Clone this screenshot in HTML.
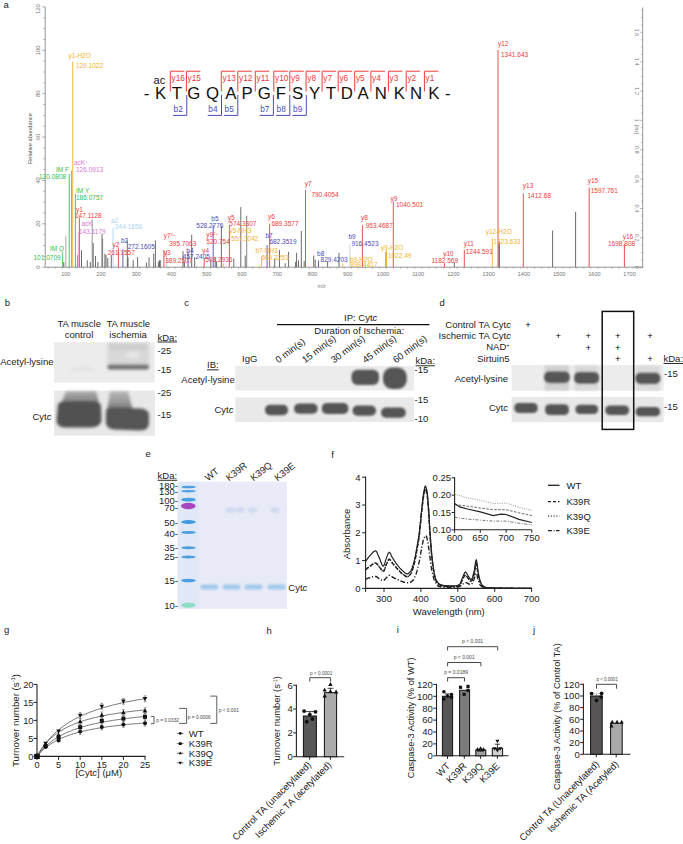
<!DOCTYPE html>
<html><head><meta charset="utf-8"><title>Figure</title>
<style>
html,body{margin:0;padding:0;background:#fff;width:683px;height:844px;overflow:hidden;}
svg{display:block;}
text{font-family:"Liberation Sans", sans-serif;}
</style></head><body>
<svg width="683" height="844" viewBox="0 0 683 844" font-family="Liberation Sans, sans-serif">
<defs>
<filter id="bl06" x="-20%" y="-20%" width="140%" height="140%"><feGaussianBlur stdDeviation="0.6"/></filter>
<filter id="bl07" x="-20%" y="-50%" width="140%" height="200%"><feGaussianBlur stdDeviation="0.75"/></filter>
<filter id="bl1" x="-20%" y="-20%" width="140%" height="140%"><feGaussianBlur stdDeviation="0.9"/></filter>
<filter id="bl2" x="-20%" y="-20%" width="140%" height="140%"><feGaussianBlur stdDeviation="1.6"/></filter>
</defs>
<rect width="683" height="844" fill="#fff"/>
<text x="3.6" y="8.0" font-size="9.5" text-anchor="start" fill="#222" >a</text>
<line x1="45.2" y1="7.0" x2="45.2" y2="267.2" stroke="#8a8a8a" stroke-width="0.9" />
<line x1="42.2" y1="267.2" x2="45.2" y2="267.2" stroke="#8a8a8a" stroke-width="0.7" />
<line x1="43.4" y1="256.4" x2="45.2" y2="256.4" stroke="#8a8a8a" stroke-width="0.7" />
<line x1="43.4" y1="245.5" x2="45.2" y2="245.5" stroke="#8a8a8a" stroke-width="0.7" />
<line x1="43.4" y1="234.7" x2="45.2" y2="234.7" stroke="#8a8a8a" stroke-width="0.7" />
<line x1="42.2" y1="223.8" x2="45.2" y2="223.8" stroke="#8a8a8a" stroke-width="0.7" />
<line x1="43.4" y1="213.0" x2="45.2" y2="213.0" stroke="#8a8a8a" stroke-width="0.7" />
<line x1="43.4" y1="202.1" x2="45.2" y2="202.1" stroke="#8a8a8a" stroke-width="0.7" />
<line x1="43.4" y1="191.3" x2="45.2" y2="191.3" stroke="#8a8a8a" stroke-width="0.7" />
<line x1="42.2" y1="180.4" x2="45.2" y2="180.4" stroke="#8a8a8a" stroke-width="0.7" />
<line x1="43.4" y1="169.6" x2="45.2" y2="169.6" stroke="#8a8a8a" stroke-width="0.7" />
<line x1="43.4" y1="158.8" x2="45.2" y2="158.8" stroke="#8a8a8a" stroke-width="0.7" />
<line x1="43.4" y1="147.9" x2="45.2" y2="147.9" stroke="#8a8a8a" stroke-width="0.7" />
<line x1="42.2" y1="137.1" x2="45.2" y2="137.1" stroke="#8a8a8a" stroke-width="0.7" />
<line x1="43.4" y1="126.2" x2="45.2" y2="126.2" stroke="#8a8a8a" stroke-width="0.7" />
<line x1="43.4" y1="115.4" x2="45.2" y2="115.4" stroke="#8a8a8a" stroke-width="0.7" />
<line x1="43.4" y1="104.5" x2="45.2" y2="104.5" stroke="#8a8a8a" stroke-width="0.7" />
<line x1="42.2" y1="93.7" x2="45.2" y2="93.7" stroke="#8a8a8a" stroke-width="0.7" />
<line x1="43.4" y1="82.8" x2="45.2" y2="82.8" stroke="#8a8a8a" stroke-width="0.7" />
<line x1="43.4" y1="72.0" x2="45.2" y2="72.0" stroke="#8a8a8a" stroke-width="0.7" />
<line x1="43.4" y1="61.1" x2="45.2" y2="61.1" stroke="#8a8a8a" stroke-width="0.7" />
<line x1="42.2" y1="50.3" x2="45.2" y2="50.3" stroke="#8a8a8a" stroke-width="0.7" />
<line x1="43.4" y1="39.5" x2="45.2" y2="39.5" stroke="#8a8a8a" stroke-width="0.7" />
<line x1="43.4" y1="28.6" x2="45.2" y2="28.6" stroke="#8a8a8a" stroke-width="0.7" />
<line x1="43.4" y1="17.8" x2="45.2" y2="17.8" stroke="#8a8a8a" stroke-width="0.7" />
<line x1="42.2" y1="6.9" x2="45.2" y2="6.9" stroke="#8a8a8a" stroke-width="0.7" />
<text x="0" y="0" font-size="5.9" text-anchor="middle" fill="#777" transform="translate(39.6,267.2) rotate(-90)" >0</text>
<text x="0" y="0" font-size="5.9" text-anchor="middle" fill="#777" transform="translate(39.6,223.8) rotate(-90)" >20</text>
<text x="0" y="0" font-size="5.9" text-anchor="middle" fill="#777" transform="translate(39.6,180.4) rotate(-90)" >40</text>
<text x="0" y="0" font-size="5.9" text-anchor="middle" fill="#777" transform="translate(39.6,137.1) rotate(-90)" >60</text>
<text x="0" y="0" font-size="5.9" text-anchor="middle" fill="#777" transform="translate(39.6,93.7) rotate(-90)" >80</text>
<text x="0" y="0" font-size="5.9" text-anchor="middle" fill="#777" transform="translate(39.6,50.3) rotate(-90)" >100</text>
<text x="0" y="0" font-size="5.9" text-anchor="middle" fill="#777" transform="translate(39.6,9.2) rotate(-90)" >120</text>
<text x="0" y="0" font-size="5.75" text-anchor="middle" fill="#555" transform="translate(32.0,138.5) rotate(-90)" >Relative abundance</text>
<line x1="45.2" y1="267.2" x2="643.5" y2="267.2" stroke="#8a8a8a" stroke-width="0.9" />
<line x1="48.2" y1="267.2" x2="48.2" y2="268.8" stroke="#8a8a8a" stroke-width="0.6" />
<line x1="55.2" y1="267.2" x2="55.2" y2="268.8" stroke="#8a8a8a" stroke-width="0.6" />
<line x1="62.3" y1="267.2" x2="62.3" y2="268.8" stroke="#8a8a8a" stroke-width="0.6" />
<line x1="69.3" y1="267.2" x2="69.3" y2="268.8" stroke="#8a8a8a" stroke-width="0.6" />
<line x1="76.4" y1="267.2" x2="76.4" y2="268.8" stroke="#8a8a8a" stroke-width="0.6" />
<line x1="83.4" y1="267.2" x2="83.4" y2="268.8" stroke="#8a8a8a" stroke-width="0.6" />
<line x1="90.5" y1="267.2" x2="90.5" y2="268.8" stroke="#8a8a8a" stroke-width="0.6" />
<line x1="97.5" y1="267.2" x2="97.5" y2="268.8" stroke="#8a8a8a" stroke-width="0.6" />
<line x1="104.6" y1="267.2" x2="104.6" y2="268.8" stroke="#8a8a8a" stroke-width="0.6" />
<line x1="111.6" y1="267.2" x2="111.6" y2="268.8" stroke="#8a8a8a" stroke-width="0.6" />
<line x1="118.7" y1="267.2" x2="118.7" y2="268.8" stroke="#8a8a8a" stroke-width="0.6" />
<line x1="125.7" y1="267.2" x2="125.7" y2="268.8" stroke="#8a8a8a" stroke-width="0.6" />
<line x1="132.8" y1="267.2" x2="132.8" y2="268.8" stroke="#8a8a8a" stroke-width="0.6" />
<line x1="139.8" y1="267.2" x2="139.8" y2="268.8" stroke="#8a8a8a" stroke-width="0.6" />
<line x1="146.9" y1="267.2" x2="146.9" y2="268.8" stroke="#8a8a8a" stroke-width="0.6" />
<line x1="153.9" y1="267.2" x2="153.9" y2="268.8" stroke="#8a8a8a" stroke-width="0.6" />
<line x1="160.9" y1="267.2" x2="160.9" y2="268.8" stroke="#8a8a8a" stroke-width="0.6" />
<line x1="168.0" y1="267.2" x2="168.0" y2="268.8" stroke="#8a8a8a" stroke-width="0.6" />
<line x1="175.0" y1="267.2" x2="175.0" y2="268.8" stroke="#8a8a8a" stroke-width="0.6" />
<line x1="182.1" y1="267.2" x2="182.1" y2="268.8" stroke="#8a8a8a" stroke-width="0.6" />
<line x1="189.1" y1="267.2" x2="189.1" y2="268.8" stroke="#8a8a8a" stroke-width="0.6" />
<line x1="196.2" y1="267.2" x2="196.2" y2="268.8" stroke="#8a8a8a" stroke-width="0.6" />
<line x1="203.2" y1="267.2" x2="203.2" y2="268.8" stroke="#8a8a8a" stroke-width="0.6" />
<line x1="210.3" y1="267.2" x2="210.3" y2="268.8" stroke="#8a8a8a" stroke-width="0.6" />
<line x1="217.3" y1="267.2" x2="217.3" y2="268.8" stroke="#8a8a8a" stroke-width="0.6" />
<line x1="224.4" y1="267.2" x2="224.4" y2="268.8" stroke="#8a8a8a" stroke-width="0.6" />
<line x1="231.4" y1="267.2" x2="231.4" y2="268.8" stroke="#8a8a8a" stroke-width="0.6" />
<line x1="238.5" y1="267.2" x2="238.5" y2="268.8" stroke="#8a8a8a" stroke-width="0.6" />
<line x1="245.5" y1="267.2" x2="245.5" y2="268.8" stroke="#8a8a8a" stroke-width="0.6" />
<line x1="252.6" y1="267.2" x2="252.6" y2="268.8" stroke="#8a8a8a" stroke-width="0.6" />
<line x1="259.6" y1="267.2" x2="259.6" y2="268.8" stroke="#8a8a8a" stroke-width="0.6" />
<line x1="266.7" y1="267.2" x2="266.7" y2="268.8" stroke="#8a8a8a" stroke-width="0.6" />
<line x1="273.7" y1="267.2" x2="273.7" y2="268.8" stroke="#8a8a8a" stroke-width="0.6" />
<line x1="280.8" y1="267.2" x2="280.8" y2="268.8" stroke="#8a8a8a" stroke-width="0.6" />
<line x1="287.8" y1="267.2" x2="287.8" y2="268.8" stroke="#8a8a8a" stroke-width="0.6" />
<line x1="294.9" y1="267.2" x2="294.9" y2="268.8" stroke="#8a8a8a" stroke-width="0.6" />
<line x1="301.9" y1="267.2" x2="301.9" y2="268.8" stroke="#8a8a8a" stroke-width="0.6" />
<line x1="309.0" y1="267.2" x2="309.0" y2="268.8" stroke="#8a8a8a" stroke-width="0.6" />
<line x1="316.0" y1="267.2" x2="316.0" y2="268.8" stroke="#8a8a8a" stroke-width="0.6" />
<line x1="323.1" y1="267.2" x2="323.1" y2="268.8" stroke="#8a8a8a" stroke-width="0.6" />
<line x1="330.1" y1="267.2" x2="330.1" y2="268.8" stroke="#8a8a8a" stroke-width="0.6" />
<line x1="337.1" y1="267.2" x2="337.1" y2="268.8" stroke="#8a8a8a" stroke-width="0.6" />
<line x1="344.2" y1="267.2" x2="344.2" y2="268.8" stroke="#8a8a8a" stroke-width="0.6" />
<line x1="351.2" y1="267.2" x2="351.2" y2="268.8" stroke="#8a8a8a" stroke-width="0.6" />
<line x1="358.3" y1="267.2" x2="358.3" y2="268.8" stroke="#8a8a8a" stroke-width="0.6" />
<line x1="365.3" y1="267.2" x2="365.3" y2="268.8" stroke="#8a8a8a" stroke-width="0.6" />
<line x1="372.4" y1="267.2" x2="372.4" y2="268.8" stroke="#8a8a8a" stroke-width="0.6" />
<line x1="379.4" y1="267.2" x2="379.4" y2="268.8" stroke="#8a8a8a" stroke-width="0.6" />
<line x1="386.5" y1="267.2" x2="386.5" y2="268.8" stroke="#8a8a8a" stroke-width="0.6" />
<line x1="393.5" y1="267.2" x2="393.5" y2="268.8" stroke="#8a8a8a" stroke-width="0.6" />
<line x1="400.6" y1="267.2" x2="400.6" y2="268.8" stroke="#8a8a8a" stroke-width="0.6" />
<line x1="407.6" y1="267.2" x2="407.6" y2="268.8" stroke="#8a8a8a" stroke-width="0.6" />
<line x1="414.7" y1="267.2" x2="414.7" y2="268.8" stroke="#8a8a8a" stroke-width="0.6" />
<line x1="421.7" y1="267.2" x2="421.7" y2="268.8" stroke="#8a8a8a" stroke-width="0.6" />
<line x1="428.8" y1="267.2" x2="428.8" y2="268.8" stroke="#8a8a8a" stroke-width="0.6" />
<line x1="435.8" y1="267.2" x2="435.8" y2="268.8" stroke="#8a8a8a" stroke-width="0.6" />
<line x1="442.9" y1="267.2" x2="442.9" y2="268.8" stroke="#8a8a8a" stroke-width="0.6" />
<line x1="449.9" y1="267.2" x2="449.9" y2="268.8" stroke="#8a8a8a" stroke-width="0.6" />
<line x1="457.0" y1="267.2" x2="457.0" y2="268.8" stroke="#8a8a8a" stroke-width="0.6" />
<line x1="464.0" y1="267.2" x2="464.0" y2="268.8" stroke="#8a8a8a" stroke-width="0.6" />
<line x1="471.1" y1="267.2" x2="471.1" y2="268.8" stroke="#8a8a8a" stroke-width="0.6" />
<line x1="478.1" y1="267.2" x2="478.1" y2="268.8" stroke="#8a8a8a" stroke-width="0.6" />
<line x1="485.2" y1="267.2" x2="485.2" y2="268.8" stroke="#8a8a8a" stroke-width="0.6" />
<line x1="492.2" y1="267.2" x2="492.2" y2="268.8" stroke="#8a8a8a" stroke-width="0.6" />
<line x1="499.3" y1="267.2" x2="499.3" y2="268.8" stroke="#8a8a8a" stroke-width="0.6" />
<line x1="506.3" y1="267.2" x2="506.3" y2="268.8" stroke="#8a8a8a" stroke-width="0.6" />
<line x1="513.3" y1="267.2" x2="513.3" y2="268.8" stroke="#8a8a8a" stroke-width="0.6" />
<line x1="520.4" y1="267.2" x2="520.4" y2="268.8" stroke="#8a8a8a" stroke-width="0.6" />
<line x1="527.4" y1="267.2" x2="527.4" y2="268.8" stroke="#8a8a8a" stroke-width="0.6" />
<line x1="534.5" y1="267.2" x2="534.5" y2="268.8" stroke="#8a8a8a" stroke-width="0.6" />
<line x1="541.5" y1="267.2" x2="541.5" y2="268.8" stroke="#8a8a8a" stroke-width="0.6" />
<line x1="548.6" y1="267.2" x2="548.6" y2="268.8" stroke="#8a8a8a" stroke-width="0.6" />
<line x1="555.6" y1="267.2" x2="555.6" y2="268.8" stroke="#8a8a8a" stroke-width="0.6" />
<line x1="562.7" y1="267.2" x2="562.7" y2="268.8" stroke="#8a8a8a" stroke-width="0.6" />
<line x1="569.7" y1="267.2" x2="569.7" y2="268.8" stroke="#8a8a8a" stroke-width="0.6" />
<line x1="576.8" y1="267.2" x2="576.8" y2="268.8" stroke="#8a8a8a" stroke-width="0.6" />
<line x1="583.8" y1="267.2" x2="583.8" y2="268.8" stroke="#8a8a8a" stroke-width="0.6" />
<line x1="590.9" y1="267.2" x2="590.9" y2="268.8" stroke="#8a8a8a" stroke-width="0.6" />
<line x1="597.9" y1="267.2" x2="597.9" y2="268.8" stroke="#8a8a8a" stroke-width="0.6" />
<line x1="605.0" y1="267.2" x2="605.0" y2="268.8" stroke="#8a8a8a" stroke-width="0.6" />
<line x1="612.0" y1="267.2" x2="612.0" y2="268.8" stroke="#8a8a8a" stroke-width="0.6" />
<line x1="619.1" y1="267.2" x2="619.1" y2="268.8" stroke="#8a8a8a" stroke-width="0.6" />
<line x1="626.1" y1="267.2" x2="626.1" y2="268.8" stroke="#8a8a8a" stroke-width="0.6" />
<line x1="633.2" y1="267.2" x2="633.2" y2="268.8" stroke="#8a8a8a" stroke-width="0.6" />
<line x1="640.2" y1="267.2" x2="640.2" y2="268.8" stroke="#8a8a8a" stroke-width="0.6" />
<text x="65.8" y="276.0" font-size="5.6" text-anchor="middle" fill="#777" >100</text>
<text x="101.0" y="276.0" font-size="5.6" text-anchor="middle" fill="#777" >200</text>
<text x="136.3" y="276.0" font-size="5.6" text-anchor="middle" fill="#777" >300</text>
<text x="171.5" y="276.0" font-size="5.6" text-anchor="middle" fill="#777" >400</text>
<text x="206.8" y="276.0" font-size="5.6" text-anchor="middle" fill="#777" >500</text>
<text x="242.0" y="276.0" font-size="5.6" text-anchor="middle" fill="#777" >600</text>
<text x="277.2" y="276.0" font-size="5.6" text-anchor="middle" fill="#777" >700</text>
<text x="312.5" y="276.0" font-size="5.6" text-anchor="middle" fill="#777" >800</text>
<text x="347.7" y="276.0" font-size="5.6" text-anchor="middle" fill="#777" >900</text>
<text x="383.0" y="276.0" font-size="5.6" text-anchor="middle" fill="#777" >1000</text>
<text x="418.2" y="276.0" font-size="5.6" text-anchor="middle" fill="#777" >1100</text>
<text x="453.4" y="276.0" font-size="5.6" text-anchor="middle" fill="#777" >1200</text>
<text x="488.7" y="276.0" font-size="5.6" text-anchor="middle" fill="#777" >1300</text>
<text x="523.9" y="276.0" font-size="5.6" text-anchor="middle" fill="#777" >1400</text>
<text x="559.2" y="276.0" font-size="5.6" text-anchor="middle" fill="#777" >1500</text>
<text x="594.4" y="276.0" font-size="5.6" text-anchor="middle" fill="#777" >1600</text>
<text x="629.6" y="276.0" font-size="5.6" text-anchor="middle" fill="#777" >1700</text>
<text x="321.5" y="287.5" font-size="5" text-anchor="middle" fill="#777" >m/z</text>
<line x1="642.7" y1="7.5" x2="642.7" y2="267.2" stroke="#8a8a8a" stroke-width="0.9" />
<line x1="640.1" y1="267.2" x2="642.7" y2="267.2" stroke="#8a8a8a" stroke-width="0.6" />
<line x1="641.1" y1="259.9" x2="642.7" y2="259.9" stroke="#8a8a8a" stroke-width="0.6" />
<line x1="641.1" y1="252.5" x2="642.7" y2="252.5" stroke="#8a8a8a" stroke-width="0.6" />
<line x1="641.1" y1="245.2" x2="642.7" y2="245.2" stroke="#8a8a8a" stroke-width="0.6" />
<line x1="640.1" y1="237.8" x2="642.7" y2="237.8" stroke="#8a8a8a" stroke-width="0.6" />
<line x1="641.1" y1="230.5" x2="642.7" y2="230.5" stroke="#8a8a8a" stroke-width="0.6" />
<line x1="641.1" y1="223.2" x2="642.7" y2="223.2" stroke="#8a8a8a" stroke-width="0.6" />
<line x1="641.1" y1="215.8" x2="642.7" y2="215.8" stroke="#8a8a8a" stroke-width="0.6" />
<line x1="640.1" y1="208.5" x2="642.7" y2="208.5" stroke="#8a8a8a" stroke-width="0.6" />
<line x1="641.1" y1="201.1" x2="642.7" y2="201.1" stroke="#8a8a8a" stroke-width="0.6" />
<line x1="641.1" y1="193.8" x2="642.7" y2="193.8" stroke="#8a8a8a" stroke-width="0.6" />
<line x1="641.1" y1="186.5" x2="642.7" y2="186.5" stroke="#8a8a8a" stroke-width="0.6" />
<line x1="640.1" y1="179.1" x2="642.7" y2="179.1" stroke="#8a8a8a" stroke-width="0.6" />
<line x1="641.1" y1="171.8" x2="642.7" y2="171.8" stroke="#8a8a8a" stroke-width="0.6" />
<line x1="641.1" y1="164.4" x2="642.7" y2="164.4" stroke="#8a8a8a" stroke-width="0.6" />
<line x1="641.1" y1="157.1" x2="642.7" y2="157.1" stroke="#8a8a8a" stroke-width="0.6" />
<line x1="640.1" y1="149.8" x2="642.7" y2="149.8" stroke="#8a8a8a" stroke-width="0.6" />
<line x1="641.1" y1="142.4" x2="642.7" y2="142.4" stroke="#8a8a8a" stroke-width="0.6" />
<line x1="641.1" y1="135.1" x2="642.7" y2="135.1" stroke="#8a8a8a" stroke-width="0.6" />
<line x1="641.1" y1="127.7" x2="642.7" y2="127.7" stroke="#8a8a8a" stroke-width="0.6" />
<line x1="640.1" y1="120.4" x2="642.7" y2="120.4" stroke="#8a8a8a" stroke-width="0.6" />
<line x1="641.1" y1="113.1" x2="642.7" y2="113.1" stroke="#8a8a8a" stroke-width="0.6" />
<line x1="641.1" y1="105.7" x2="642.7" y2="105.7" stroke="#8a8a8a" stroke-width="0.6" />
<line x1="641.1" y1="98.4" x2="642.7" y2="98.4" stroke="#8a8a8a" stroke-width="0.6" />
<line x1="640.1" y1="91.0" x2="642.7" y2="91.0" stroke="#8a8a8a" stroke-width="0.6" />
<line x1="641.1" y1="83.7" x2="642.7" y2="83.7" stroke="#8a8a8a" stroke-width="0.6" />
<line x1="641.1" y1="76.4" x2="642.7" y2="76.4" stroke="#8a8a8a" stroke-width="0.6" />
<line x1="641.1" y1="69.0" x2="642.7" y2="69.0" stroke="#8a8a8a" stroke-width="0.6" />
<line x1="640.1" y1="61.7" x2="642.7" y2="61.7" stroke="#8a8a8a" stroke-width="0.6" />
<line x1="641.1" y1="54.3" x2="642.7" y2="54.3" stroke="#8a8a8a" stroke-width="0.6" />
<line x1="641.1" y1="47.0" x2="642.7" y2="47.0" stroke="#8a8a8a" stroke-width="0.6" />
<line x1="641.1" y1="39.7" x2="642.7" y2="39.7" stroke="#8a8a8a" stroke-width="0.6" />
<line x1="640.1" y1="32.3" x2="642.7" y2="32.3" stroke="#8a8a8a" stroke-width="0.6" />
<line x1="641.1" y1="25.0" x2="642.7" y2="25.0" stroke="#8a8a8a" stroke-width="0.6" />
<line x1="641.1" y1="17.6" x2="642.7" y2="17.6" stroke="#8a8a8a" stroke-width="0.6" />
<line x1="641.1" y1="10.3" x2="642.7" y2="10.3" stroke="#8a8a8a" stroke-width="0.6" />
<text x="0" y="0" font-size="5.6" text-anchor="middle" fill="#777" transform="translate(635.2,267.2) rotate(90)" >0</text>
<text x="0" y="0" font-size="5.6" text-anchor="middle" fill="#777" transform="translate(635.2,237.8) rotate(90)" >0.2</text>
<text x="0" y="0" font-size="5.6" text-anchor="middle" fill="#777" transform="translate(635.2,208.5) rotate(90)" >0.4</text>
<text x="0" y="0" font-size="5.6" text-anchor="middle" fill="#777" transform="translate(635.2,179.1) rotate(90)" >0.6</text>
<text x="0" y="0" font-size="5.6" text-anchor="middle" fill="#777" transform="translate(635.2,149.8) rotate(90)" >0.8</text>
<text x="0" y="0" font-size="5.6" text-anchor="middle" fill="#777" transform="translate(635.2,120.4) rotate(90)" >1</text>
<text x="0" y="0" font-size="5.6" text-anchor="middle" fill="#777" transform="translate(635.2,91.0) rotate(90)" >1.2</text>
<text x="0" y="0" font-size="5.6" text-anchor="middle" fill="#777" transform="translate(635.2,61.7) rotate(90)" >1.4</text>
<text x="0" y="0" font-size="5.6" text-anchor="middle" fill="#777" transform="translate(635.2,32.3) rotate(90)" >1.6</text>
<text x="0" y="0" font-size="4.5" text-anchor="middle" fill="#777" transform="translate(635.2,129.5) rotate(90)" >[ms]</text>
<line x1="62.7" y1="253.3" x2="62.7" y2="267.2" stroke="#2fbf4a" stroke-width="0.9" />
<line x1="63.8" y1="262.0" x2="63.8" y2="267.2" stroke="#5a5a5a" stroke-width="0.9" />
<line x1="65.9" y1="236.3" x2="65.9" y2="267.2" stroke="#999" stroke-width="0.9" />
<line x1="69.2" y1="174.0" x2="69.2" y2="267.2" stroke="#2fbf4a" stroke-width="0.9" />
<line x1="71.5" y1="170.5" x2="71.5" y2="267.2" stroke="#d77ad7" stroke-width="0.9" />
<line x1="72.7" y1="61.5" x2="72.7" y2="267.2" stroke="#f5b22a" stroke-width="0.9" />
<line x1="75.4" y1="194.0" x2="75.4" y2="267.2" stroke="#2fbf4a" stroke-width="0.9" />
<line x1="77.6" y1="255.0" x2="77.6" y2="267.2" stroke="#b050d0" stroke-width="0.9" />
<line x1="78.3" y1="231.6" x2="78.3" y2="267.2" stroke="#f0b0e0" stroke-width="0.9" />
<line x1="79.4" y1="217.6" x2="79.4" y2="267.2" stroke="#ee3b3b" stroke-width="0.9" />
<line x1="81.5" y1="250.3" x2="81.5" y2="267.2" stroke="#5a5a5a" stroke-width="0.9" />
<line x1="87.3" y1="260.3" x2="87.3" y2="267.2" stroke="#5a5a5a" stroke-width="0.9" />
<line x1="90.3" y1="262.0" x2="90.3" y2="267.2" stroke="#5a5a5a" stroke-width="0.9" />
<line x1="92.2" y1="219.3" x2="92.2" y2="267.2" stroke="#888" stroke-width="0.9" />
<line x1="93.2" y1="243.0" x2="93.2" y2="267.2" stroke="#5a5a5a" stroke-width="0.9" />
<line x1="95.5" y1="256.0" x2="95.5" y2="267.2" stroke="#5a5a5a" stroke-width="0.9" />
<line x1="97.9" y1="262.0" x2="97.9" y2="267.2" stroke="#5a5a5a" stroke-width="0.9" />
<line x1="102.0" y1="234.0" x2="102.0" y2="267.2" stroke="#5a5a5a" stroke-width="0.9" />
<line x1="102.6" y1="238.6" x2="102.6" y2="267.2" stroke="#777" stroke-width="0.9" />
<line x1="104.9" y1="253.7" x2="104.9" y2="267.2" stroke="#5a5a5a" stroke-width="0.9" />
<line x1="106.0" y1="255.0" x2="106.0" y2="267.2" stroke="#5a5a5a" stroke-width="0.9" />
<line x1="107.8" y1="258.0" x2="107.8" y2="267.2" stroke="#5a5a5a" stroke-width="0.9" />
<line x1="111.3" y1="255.0" x2="111.3" y2="267.2" stroke="#5a5a5a" stroke-width="0.9" />
<line x1="113.1" y1="228.0" x2="113.1" y2="267.2" stroke="#a9d6f2" stroke-width="0.9" />
<line x1="118.4" y1="247.4" x2="118.4" y2="267.2" stroke="#ee3b3b" stroke-width="0.9" />
<line x1="122.9" y1="249.3" x2="122.9" y2="267.2" stroke="#4a4ab8" stroke-width="0.9" />
<line x1="127.3" y1="240.5" x2="127.3" y2="267.2" stroke="#5a5a5a" stroke-width="0.9" />
<line x1="128.0" y1="257.3" x2="128.0" y2="267.2" stroke="#5a5a5a" stroke-width="0.9" />
<line x1="133.2" y1="260.3" x2="133.2" y2="267.2" stroke="#5a5a5a" stroke-width="0.9" />
<line x1="137.6" y1="257.0" x2="137.6" y2="267.2" stroke="#5a5a5a" stroke-width="0.9" />
<line x1="146.4" y1="262.5" x2="146.4" y2="267.2" stroke="#5a5a5a" stroke-width="0.9" />
<line x1="149.0" y1="257.3" x2="149.0" y2="267.2" stroke="#5a5a5a" stroke-width="0.9" />
<line x1="153.7" y1="253.7" x2="153.7" y2="267.2" stroke="#5a5a5a" stroke-width="0.9" />
<line x1="155.4" y1="240.5" x2="155.4" y2="267.2" stroke="#5a5a5a" stroke-width="0.9" />
<line x1="158.4" y1="261.7" x2="158.4" y2="267.2" stroke="#5a5a5a" stroke-width="0.9" />
<line x1="159.5" y1="260.3" x2="159.5" y2="267.2" stroke="#5a5a5a" stroke-width="0.9" />
<line x1="160.3" y1="260.0" x2="160.3" y2="267.2" stroke="#5a5a5a" stroke-width="0.9" />
<line x1="163.9" y1="250.0" x2="163.9" y2="267.2" stroke="#ee3b3b" stroke-width="0.9" />
<line x1="166.6" y1="250.0" x2="166.6" y2="267.2" stroke="#bbb" stroke-width="0.9" />
<line x1="183.0" y1="251.2" x2="183.0" y2="267.2" stroke="#5a5a5a" stroke-width="0.9" />
<line x1="184.4" y1="261.7" x2="184.4" y2="267.2" stroke="#5a5a5a" stroke-width="0.9" />
<line x1="188.1" y1="251.5" x2="188.1" y2="267.2" stroke="#4a4ab8" stroke-width="0.9" />
<line x1="191.7" y1="234.7" x2="191.7" y2="267.2" stroke="#5a5a5a" stroke-width="0.9" />
<line x1="194.7" y1="257.3" x2="194.7" y2="267.2" stroke="#5a5a5a" stroke-width="0.9" />
<line x1="204.2" y1="258.0" x2="204.2" y2="267.2" stroke="#ee3b3b" stroke-width="0.9" />
<line x1="210.8" y1="258.8" x2="210.8" y2="267.2" stroke="#5a5a5a" stroke-width="0.9" />
<line x1="213.2" y1="225.2" x2="213.2" y2="267.2" stroke="#4a4ab8" stroke-width="0.9" />
<line x1="215.2" y1="257.0" x2="215.2" y2="267.2" stroke="#5a5a5a" stroke-width="0.9" />
<line x1="216.6" y1="261.4" x2="216.6" y2="267.2" stroke="#5a5a5a" stroke-width="0.9" />
<line x1="221.4" y1="226.1" x2="221.4" y2="267.2" stroke="#5a5a5a" stroke-width="0.9" />
<line x1="223.3" y1="263.3" x2="223.3" y2="267.2" stroke="#f5b22a" stroke-width="0.9" />
<line x1="229.4" y1="225.2" x2="229.4" y2="267.2" stroke="#ee3b3b" stroke-width="0.9" />
<line x1="233.8" y1="258.5" x2="233.8" y2="267.2" stroke="#5a5a5a" stroke-width="0.9" />
<line x1="240.8" y1="207.1" x2="240.8" y2="267.2" stroke="#5a5a5a" stroke-width="0.9" />
<line x1="245.2" y1="255.6" x2="245.2" y2="267.2" stroke="#5a5a5a" stroke-width="0.9" />
<line x1="246.7" y1="215.7" x2="246.7" y2="267.2" stroke="#777" stroke-width="0.9" />
<line x1="261.4" y1="256.6" x2="261.4" y2="267.2" stroke="#f5b22a" stroke-width="0.9" />
<line x1="267.1" y1="245.2" x2="267.1" y2="267.2" stroke="#4a4ab8" stroke-width="0.9" />
<line x1="269.6" y1="223.7" x2="269.6" y2="267.2" stroke="#ee3b3b" stroke-width="0.9" />
<line x1="274.7" y1="258.5" x2="274.7" y2="267.2" stroke="#5a5a5a" stroke-width="0.9" />
<line x1="279.5" y1="250.0" x2="279.5" y2="267.2" stroke="#5a5a5a" stroke-width="0.9" />
<line x1="285.2" y1="263.3" x2="285.2" y2="267.2" stroke="#5a5a5a" stroke-width="0.9" />
<line x1="288.6" y1="251.8" x2="288.6" y2="267.2" stroke="#5a5a5a" stroke-width="0.9" />
<line x1="295.6" y1="262.0" x2="295.6" y2="267.2" stroke="#5a5a5a" stroke-width="0.9" />
<line x1="296.6" y1="252.8" x2="296.6" y2="267.2" stroke="#5a5a5a" stroke-width="0.9" />
<line x1="298.5" y1="260.4" x2="298.5" y2="267.2" stroke="#5a5a5a" stroke-width="0.9" />
<line x1="301.3" y1="230.9" x2="301.3" y2="267.2" stroke="#5a5a5a" stroke-width="0.9" />
<line x1="304.2" y1="261.0" x2="304.2" y2="267.2" stroke="#5a5a5a" stroke-width="0.9" />
<line x1="305.5" y1="190.0" x2="305.5" y2="267.2" stroke="#ee3b3b" stroke-width="0.9" />
<line x1="313.7" y1="255.6" x2="313.7" y2="267.2" stroke="#5a5a5a" stroke-width="0.9" />
<line x1="315.2" y1="259.5" x2="315.2" y2="267.2" stroke="#5a5a5a" stroke-width="0.9" />
<line x1="318.5" y1="260.4" x2="318.5" y2="267.2" stroke="#4a4ab8" stroke-width="0.9" />
<line x1="327.6" y1="261.4" x2="327.6" y2="267.2" stroke="#5a5a5a" stroke-width="0.9" />
<line x1="339.0" y1="252.8" x2="339.0" y2="267.2" stroke="#5a5a5a" stroke-width="0.9" />
<line x1="342.8" y1="263.3" x2="342.8" y2="267.2" stroke="#f5b22a" stroke-width="0.9" />
<line x1="349.9" y1="244.2" x2="349.9" y2="267.2" stroke="#ccc" stroke-width="0.9" />
<line x1="362.4" y1="225.2" x2="362.4" y2="267.2" stroke="#ee3b3b" stroke-width="0.9" />
<line x1="386.0" y1="252.0" x2="386.0" y2="267.2" stroke="#5a5a5a" stroke-width="0.9" />
<line x1="386.6" y1="250.0" x2="386.6" y2="267.2" stroke="#f5b22a" stroke-width="0.9" />
<line x1="393.3" y1="201.4" x2="393.3" y2="267.2" stroke="#ee3b3b" stroke-width="0.9" />
<line x1="444.4" y1="263.2" x2="444.4" y2="267.2" stroke="#ee3b3b" stroke-width="0.9" />
<line x1="454.3" y1="262.3" x2="454.3" y2="267.2" stroke="#5a5a5a" stroke-width="0.9" />
<line x1="464.3" y1="250.0" x2="464.3" y2="267.2" stroke="#ee3b3b" stroke-width="0.9" />
<line x1="492.3" y1="238.5" x2="492.3" y2="267.2" stroke="#f5b22a" stroke-width="0.9" />
<line x1="498.0" y1="50.0" x2="498.0" y2="267.2" stroke="#ee3b3b" stroke-width="0.9" />
<line x1="499.2" y1="242.3" x2="499.2" y2="267.2" stroke="#222" stroke-width="0.9" />
<line x1="523.3" y1="193.4" x2="523.3" y2="267.2" stroke="#ee3b3b" stroke-width="0.9" />
<line x1="552.6" y1="230.6" x2="552.6" y2="267.2" stroke="#5a5a5a" stroke-width="0.9" />
<line x1="575.6" y1="211.8" x2="575.6" y2="267.2" stroke="#5a5a5a" stroke-width="0.9" />
<line x1="589.2" y1="187.7" x2="589.2" y2="267.2" stroke="#ee3b3b" stroke-width="0.9" />
<line x1="624.4" y1="244.2" x2="624.4" y2="267.2" stroke="#ee3b3b" stroke-width="0.9" />
<text x="68.4" y="58.0" font-size="6.5" text-anchor="start" fill="#f5b22a" >y1-H2O</text>
<text x="75.9" y="67.5" font-size="6.5" text-anchor="start" fill="#f5b22a" >129.1022</text>
<text x="74.0" y="165.0" font-size="6.5" text-anchor="start" fill="#d77ad7" >acK<tspan font-size="4" dy="-2">+</tspan></text>
<text x="76.0" y="171.5" font-size="6.5" text-anchor="start" fill="#d77ad7" >126.0913</text>
<text x="56.0" y="171.5" font-size="6.5" text-anchor="start" fill="#2fbf4a" >IM F</text>
<text x="39.0" y="178.5" font-size="6.5" text-anchor="start" fill="#2fbf4a" >120.0808</text>
<text x="76.0" y="192.5" font-size="6.5" text-anchor="start" fill="#2fbf4a" >IM Y</text>
<text x="76.0" y="200.0" font-size="6.5" text-anchor="start" fill="#2fbf4a" >186.0757</text>
<text x="76.0" y="211.5" font-size="6.5" text-anchor="start" fill="#ee3b3b" >y1</text>
<text x="75.0" y="217.5" font-size="6.5" text-anchor="start" fill="#ee3b3b" >147.1128</text>
<text x="81.5" y="226.0" font-size="6.5" text-anchor="start" fill="#d77ad7" >acK</text>
<text x="79.0" y="233.5" font-size="6.5" text-anchor="start" fill="#d77ad7" >143.1179</text>
<text x="111.0" y="222.5" font-size="6.5" text-anchor="start" fill="#a9d6f2" >a2</text>
<text x="115.0" y="228.5" font-size="6.5" text-anchor="start" fill="#a9d6f2" >244.1656</text>
<text x="121.0" y="242.5" font-size="6.5" text-anchor="start" fill="#4a4ab8" >b2</text>
<text x="127.7" y="249.0" font-size="6.5" text-anchor="start" fill="#4a4ab8" >272.1605</text>
<text x="112.6" y="246.5" font-size="6.5" text-anchor="start" fill="#ee3b3b" >y2</text>
<text x="107.7" y="255.0" font-size="6.5" text-anchor="start" fill="#ee3b3b" >261.1557</text>
<text x="50.0" y="251.0" font-size="6.5" text-anchor="start" fill="#2fbf4a" >IM Q</text>
<text x="33.5" y="259.5" font-size="6.5" text-anchor="start" fill="#2fbf4a" >101.0709</text>
<text x="163.7" y="237.5" font-size="6.5" text-anchor="start" fill="#ee3b3b" >y7<tspan font-size="4" dy="-2">2+</tspan></text>
<text x="169.2" y="245.5" font-size="6.5" text-anchor="start" fill="#ee3b3b" >395.7063</text>
<text x="163.7" y="255.0" font-size="6.5" text-anchor="start" fill="#ee3b3b" >y3</text>
<text x="165.2" y="262.5" font-size="6.5" text-anchor="start" fill="#ee3b3b" >389.2507</text>
<text x="186.3" y="252.5" font-size="6.5" text-anchor="start" fill="#4a4ab8" >b4</text>
<text x="182.8" y="258.5" font-size="6.5" text-anchor="start" fill="#4a4ab8" >457.2405</text>
<text x="202.3" y="252.5" font-size="6.5" text-anchor="start" fill="#ee3b3b" >y4</text>
<text x="205.3" y="261.5" font-size="6.5" text-anchor="start" fill="#ee3b3b" >503.2936</text>
<text x="206.3" y="236.5" font-size="6.5" text-anchor="start" fill="#ee3b3b" >y9<tspan font-size="4" dy="-2">2+</tspan></text>
<text x="206.3" y="244.0" font-size="6.5" text-anchor="start" fill="#ee3b3b" >520.754</text>
<text x="211.3" y="221.0" font-size="6.5" text-anchor="start" fill="#4a4ab8" >b5</text>
<text x="196.3" y="227.5" font-size="6.5" text-anchor="start" fill="#4a4ab8" >528.2776</text>
<text x="227.8" y="220.0" font-size="6.5" text-anchor="start" fill="#ee3b3b" >y5</text>
<text x="229.3" y="226.0" font-size="6.5" text-anchor="start" fill="#ee3b3b" >574.3307</text>
<text x="229.3" y="232.5" font-size="6.5" text-anchor="start" fill="#f5b22a" >y5-NH3</text>
<text x="231.3" y="240.5" font-size="6.5" text-anchor="start" fill="#f5b22a" >557.3042</text>
<text x="267.9" y="219.0" font-size="6.5" text-anchor="start" fill="#ee3b3b" >y6</text>
<text x="271.4" y="226.0" font-size="6.5" text-anchor="start" fill="#ee3b3b" >689.3577</text>
<text x="265.4" y="237.5" font-size="6.5" text-anchor="start" fill="#4a4ab8" >b7</text>
<text x="269.4" y="244.0" font-size="6.5" text-anchor="start" fill="#4a4ab8" >682.3519</text>
<text x="255.4" y="252.5" font-size="6.5" text-anchor="start" fill="#f5b22a" >b7-NH3</text>
<text x="261.4" y="260.0" font-size="6.5" text-anchor="start" fill="#f5b22a" >665.3253</text>
<text x="304.8" y="186.0" font-size="6.5" text-anchor="start" fill="#ee3b3b" >y7</text>
<text x="311.4" y="196.5" font-size="6.5" text-anchor="start" fill="#ee3b3b" >790.4054</text>
<text x="317.1" y="256.0" font-size="6.5" text-anchor="start" fill="#4a4ab8" >b8</text>
<text x="320.6" y="262.3" font-size="6.5" text-anchor="start" fill="#4a4ab8" >829.4203</text>
<text x="348.5" y="239.0" font-size="6.5" text-anchor="start" fill="#4a4ab8" >b9</text>
<text x="351.4" y="245.6" font-size="6.5" text-anchor="start" fill="#4a4ab8" >916.4523</text>
<text x="349.9" y="261.8" font-size="6.5" text-anchor="start" fill="#f5b22a" >b9-H2O</text>
<text x="350.4" y="266.9" font-size="6.5" text-anchor="start" fill="#f5b22a" >898.4417</text>
<text x="360.9" y="220.0" font-size="6.5" text-anchor="start" fill="#ee3b3b" >y8</text>
<text x="365.7" y="227.5" font-size="6.5" text-anchor="start" fill="#ee3b3b" >953.4687</text>
<text x="380.9" y="250.3" font-size="6.5" text-anchor="start" fill="#f5b22a" >y9-H2O</text>
<text x="387.9" y="258.3" font-size="6.5" text-anchor="start" fill="#f5b22a" >1022.49</text>
<text x="390.4" y="200.5" font-size="6.5" text-anchor="start" fill="#ee3b3b" >y9</text>
<text x="396.0" y="207.0" font-size="6.5" text-anchor="start" fill="#ee3b3b" >1040.501</text>
<text x="443.2" y="256.0" font-size="6.5" text-anchor="start" fill="#ee3b3b" >y10</text>
<text x="431.4" y="263.1" font-size="6.5" text-anchor="start" fill="#ee3b3b" >1182.569</text>
<text x="463.8" y="245.9" font-size="6.5" text-anchor="start" fill="#ee3b3b" >y11</text>
<text x="465.7" y="253.6" font-size="6.5" text-anchor="start" fill="#ee3b3b" >1244.591</text>
<text x="485.7" y="234.1" font-size="6.5" text-anchor="start" fill="#f5b22a" >y12-H2O</text>
<text x="493.3" y="243.7" font-size="6.5" text-anchor="start" fill="#f5b22a" >1323.633</text>
<text x="498.0" y="45.8" font-size="6.5" text-anchor="start" fill="#ee3b3b" >y12</text>
<text x="501.0" y="57.3" font-size="6.5" text-anchor="start" fill="#ee3b3b" >1341.643</text>
<text x="522.8" y="188.1" font-size="6.5" text-anchor="start" fill="#ee3b3b" >y13</text>
<text x="527.5" y="197.6" font-size="6.5" text-anchor="start" fill="#ee3b3b" >1412.68</text>
<text x="587.7" y="182.7" font-size="6.5" text-anchor="start" fill="#ee3b3b" >y15</text>
<text x="590.7" y="192.5" font-size="6.5" text-anchor="start" fill="#ee3b3b" >1597.761</text>
<text x="622.7" y="238.6" font-size="6.5" text-anchor="start" fill="#ee3b3b" >y16</text>
<text x="608.0" y="246.1" font-size="6.5" text-anchor="start" fill="#ee3b3b" >1698.808</text>
<text x="160.7" y="99.4" font-size="16.8" text-anchor="middle" fill="#111" >K</text>
<text x="177.0" y="99.4" font-size="16.8" text-anchor="middle" fill="#111" >T</text>
<text x="193.7" y="99.4" font-size="16.8" text-anchor="middle" fill="#111" >G</text>
<text x="212.5" y="99.4" font-size="16.8" text-anchor="middle" fill="#111" >Q</text>
<text x="230.8" y="99.4" font-size="16.8" text-anchor="middle" fill="#111" >A</text>
<text x="247.0" y="99.4" font-size="16.8" text-anchor="middle" fill="#111" >P</text>
<text x="264.3" y="99.4" font-size="16.8" text-anchor="middle" fill="#111" >G</text>
<text x="280.8" y="99.4" font-size="16.8" text-anchor="middle" fill="#111" >F</text>
<text x="297.7" y="99.4" font-size="16.8" text-anchor="middle" fill="#111" >S</text>
<text x="314.5" y="99.4" font-size="16.8" text-anchor="middle" fill="#111" >Y</text>
<text x="331.0" y="99.4" font-size="16.8" text-anchor="middle" fill="#111" >T</text>
<text x="346.8" y="99.4" font-size="16.8" text-anchor="middle" fill="#111" >D</text>
<text x="363.2" y="99.4" font-size="16.8" text-anchor="middle" fill="#111" >A</text>
<text x="380.9" y="99.4" font-size="16.8" text-anchor="middle" fill="#111" >N</text>
<text x="399.3" y="99.4" font-size="16.8" text-anchor="middle" fill="#111" >K</text>
<text x="416.1" y="99.4" font-size="16.8" text-anchor="middle" fill="#111" >N</text>
<text x="433.9" y="99.4" font-size="16.8" text-anchor="middle" fill="#111" >K</text>
<text x="146.5" y="99.4" font-size="16.8" text-anchor="middle" fill="#111" >-</text>
<text x="447.7" y="99.4" font-size="16.8" text-anchor="middle" fill="#111" >-</text>
<text x="159.4" y="84.0" font-size="11" text-anchor="middle" fill="#111" >ac</text>
<path d="M170.3,91.5 L170.3,71.2 L184.3,71.2" fill="none" stroke="#ee3b3b" stroke-width="1"/>
<text x="171.5" y="81.3" font-size="8.3" text-anchor="start" fill="#ee3b3b" >y16</text>
<path d="M186.4,91.5 L186.4,71.2 L200.4,71.2" fill="none" stroke="#ee3b3b" stroke-width="1"/>
<text x="187.6" y="81.3" font-size="8.3" text-anchor="start" fill="#ee3b3b" >y15</text>
<path d="M221.3,91.5 L221.3,71.2 L235.3,71.2" fill="none" stroke="#ee3b3b" stroke-width="1"/>
<text x="222.5" y="81.3" font-size="8.3" text-anchor="start" fill="#ee3b3b" >y13</text>
<path d="M237.8,91.5 L237.8,71.2 L251.8,71.2" fill="none" stroke="#ee3b3b" stroke-width="1"/>
<text x="239.0" y="81.3" font-size="8.3" text-anchor="start" fill="#ee3b3b" >y12</text>
<path d="M255.3,91.5 L255.3,71.2 L269.3,71.2" fill="none" stroke="#ee3b3b" stroke-width="1"/>
<text x="256.5" y="81.3" font-size="8.3" text-anchor="start" fill="#ee3b3b" >y11</text>
<path d="M273.8,91.5 L273.8,71.2 L287.8,71.2" fill="none" stroke="#ee3b3b" stroke-width="1"/>
<text x="275.0" y="81.3" font-size="8.3" text-anchor="start" fill="#ee3b3b" >y10</text>
<path d="M289.8,91.5 L289.8,71.2 L303.8,71.2" fill="none" stroke="#ee3b3b" stroke-width="1"/>
<text x="291.0" y="81.3" font-size="8.3" text-anchor="start" fill="#ee3b3b" >y9</text>
<path d="M306.1,91.5 L306.1,71.2 L320.1,71.2" fill="none" stroke="#ee3b3b" stroke-width="1"/>
<text x="307.3" y="81.3" font-size="8.3" text-anchor="start" fill="#ee3b3b" >y8</text>
<path d="M322.1,91.5 L322.1,71.2 L336.1,71.2" fill="none" stroke="#ee3b3b" stroke-width="1"/>
<text x="323.3" y="81.3" font-size="8.3" text-anchor="start" fill="#ee3b3b" >y7</text>
<path d="M338.2,91.5 L338.2,71.2 L352.2,71.2" fill="none" stroke="#ee3b3b" stroke-width="1"/>
<text x="339.4" y="81.3" font-size="8.3" text-anchor="start" fill="#ee3b3b" >y6</text>
<path d="M354.7,91.5 L354.7,71.2 L368.7,71.2" fill="none" stroke="#ee3b3b" stroke-width="1"/>
<text x="355.9" y="81.3" font-size="8.3" text-anchor="start" fill="#ee3b3b" >y5</text>
<path d="M370.9,91.5 L370.9,71.2 L384.9,71.2" fill="none" stroke="#ee3b3b" stroke-width="1"/>
<text x="372.1" y="81.3" font-size="8.3" text-anchor="start" fill="#ee3b3b" >y4</text>
<path d="M388.4,91.5 L388.4,71.2 L402.4,71.2" fill="none" stroke="#ee3b3b" stroke-width="1"/>
<text x="389.6" y="81.3" font-size="8.3" text-anchor="start" fill="#ee3b3b" >y3</text>
<path d="M406.2,91.5 L406.2,71.2 L420.2,71.2" fill="none" stroke="#ee3b3b" stroke-width="1"/>
<text x="407.4" y="81.3" font-size="8.3" text-anchor="start" fill="#ee3b3b" >y2</text>
<path d="M424.4,91.5 L424.4,71.2 L438.4,71.2" fill="none" stroke="#ee3b3b" stroke-width="1"/>
<text x="425.6" y="81.3" font-size="8.3" text-anchor="start" fill="#ee3b3b" >y1</text>
<path d="M186.8,95 L186.8,115.4 L173.0,115.4" fill="none" stroke="#4a4ab8" stroke-width="1"/>
<text x="178.2" y="111.6" font-size="8.3" text-anchor="middle" fill="#4a4ab8" >b2</text>
<path d="M221.5,95 L221.5,115.4 L207.7,115.4" fill="none" stroke="#4a4ab8" stroke-width="1"/>
<text x="212.9" y="111.6" font-size="8.3" text-anchor="middle" fill="#4a4ab8" >b4</text>
<path d="M237.8,95 L237.8,115.4 L224.0,115.4" fill="none" stroke="#4a4ab8" stroke-width="1"/>
<text x="229.2" y="111.6" font-size="8.3" text-anchor="middle" fill="#4a4ab8" >b5</text>
<path d="M273.4,95 L273.4,115.4 L259.6,115.4" fill="none" stroke="#4a4ab8" stroke-width="1"/>
<text x="264.8" y="111.6" font-size="8.3" text-anchor="middle" fill="#4a4ab8" >b7</text>
<path d="M289.8,95 L289.8,115.4 L276.0,115.4" fill="none" stroke="#4a4ab8" stroke-width="1"/>
<text x="281.2" y="111.6" font-size="8.3" text-anchor="middle" fill="#4a4ab8" >b8</text>
<path d="M306.3,95 L306.3,115.4 L292.5,115.4" fill="none" stroke="#4a4ab8" stroke-width="1"/>
<text x="297.7" y="111.6" font-size="8.3" text-anchor="middle" fill="#4a4ab8" >b9</text>
<text x="4.8" y="306.0" font-size="9.5" text-anchor="start" fill="#222" >b</text>
<text x="79.2" y="327.1" font-size="9.5" text-anchor="middle" fill="#222" >TA muscle</text>
<text x="79.0" y="338.2" font-size="9.5" text-anchor="middle" fill="#222" >control</text>
<text x="128.3" y="327.1" font-size="9.5" text-anchor="middle" fill="#222" >TA muscle</text>
<text x="128.1" y="338.2" font-size="9.5" text-anchor="middle" fill="#222" >ischemia</text>
<text x="157.5" y="340.5" font-size="9.5" text-anchor="start" fill="#222" text-decoration="underline">kDa:</text>
<text x="157.5" y="353.7" font-size="9.5" text-anchor="start" fill="#222" >-25</text>
<text x="157.5" y="373.0" font-size="9.5" text-anchor="start" fill="#222" >-15</text>
<text x="157.5" y="395.5" font-size="9.5" text-anchor="start" fill="#222" >-25</text>
<text x="157.5" y="418.0" font-size="9.5" text-anchor="start" fill="#222" >-15</text>
<text x="53.5" y="364.5" font-size="9.5" text-anchor="end" fill="#222" >Acetyl-lysine</text>
<text x="51.5" y="419.5" font-size="9.5" text-anchor="end" fill="#222" >Cyt<tspan font-style="italic">c</tspan></text>
<rect x="54.0" y="342.2" width="100.7" height="40.3" fill="#ececec" />
<g filter="url(#bl2)">
<rect x="107.5" y="342.5" width="42.0" height="26.0" fill="#d8d8d8" />
<rect x="109.0" y="344.0" width="38.0" height="6.0" fill="#cdcdcd" />
<ellipse cx="133" cy="355" rx="7" ry="4" fill="#e4e4e4"/>
<rect x="107.5" y="364.4" width="41.5" height="5.2" rx="2" fill="#6e6e6e"/>
<ellipse cx="82" cy="369" rx="12" ry="2" fill="#e2e2e2"/>
</g>
<rect x="54.0" y="390.6" width="101.0" height="45.1" fill="#e8e8e8" />
<defs><linearGradient id="sm1" x1="0" y1="0" x2="0" y2="1"><stop offset="0" stop-color="#a8a8a8"/><stop offset="0.6" stop-color="#8a8a8a"/><stop offset="1" stop-color="#5a5a5a"/></linearGradient><linearGradient id="sm2" x1="0" y1="0" x2="0" y2="1"><stop offset="0" stop-color="#b5b5b5"/><stop offset="0.6" stop-color="#959595"/><stop offset="1" stop-color="#606060"/></linearGradient></defs>
<g filter="url(#bl2)">
<path d="M66,391.5 L96,391.5 L100,406 L60,406 Z" fill="url(#sm1)"/>
<path d="M110,391.5 L128,391.5 L133,411 L107,411 Z" fill="url(#sm2)"/>
<path d="M58,404 Q60,401 70,401 L90,401 Q100,401 101,406 L101.5,420 Q101,427 92,427.5 L64,427.5 Q56.5,427 56.5,420 Z" fill="#515151"/>
<path d="M106,410 Q107,407.5 115,407.5 L140,408.5 Q149,409 149,415 L149,423 Q149,430.5 140,430.5 L114,429.5 Q106,429 105.8,422 Z" fill="#545454"/>
</g>
<text x="184.3" y="306.3" font-size="9.5" text-anchor="start" fill="#222" >c</text>
<text x="360.7" y="320.8" font-size="9.5" text-anchor="middle" fill="#222" >IP: Cyt<tspan font-style="italic">c</tspan></text>
<line x1="277.0" y1="324.7" x2="429.5" y2="324.7" stroke="#111" stroke-width="1.3" />
<text x="359.2" y="334.4" font-size="9.5" text-anchor="middle" fill="#222" >Duration of Ischemia:</text>
<text x="0" y="0" font-size="9.5" text-anchor="start" fill="#222" transform="translate(278.5,363.6) rotate(-37)" >0 min(s)</text>
<text x="0" y="0" font-size="9.5" text-anchor="start" fill="#222" transform="translate(305.0,363.6) rotate(-37)" >15 min(s)</text>
<text x="0" y="0" font-size="9.5" text-anchor="start" fill="#222" transform="translate(334.0,363.6) rotate(-37)" >30 min(s)</text>
<text x="0" y="0" font-size="9.5" text-anchor="start" fill="#222" transform="translate(365.5,363.6) rotate(-37)" >45 min(s)</text>
<text x="0" y="0" font-size="9.5" text-anchor="start" fill="#222" transform="translate(396.0,363.6) rotate(-37)" >60 min(s)</text>
<text x="242.0" y="362.3" font-size="9.5" text-anchor="start" fill="#222" >IgG</text>
<text x="207.0" y="368.4" font-size="9.5" text-anchor="start" fill="#222" text-decoration="underline">IB:</text>
<text x="234.7" y="383.0" font-size="9.5" text-anchor="end" fill="#222" >Acetyl-lysine</text>
<text x="233.4" y="413.0" font-size="9.5" text-anchor="end" fill="#222" >Cyt<tspan font-style="italic">c</tspan></text>
<text x="415.5" y="364.3" font-size="9.5" text-anchor="start" fill="#222" text-decoration="underline">kDa:</text>
<text x="414.5" y="373.0" font-size="9.5" text-anchor="start" fill="#222" >-15</text>
<text x="414.5" y="402.8" font-size="9.5" text-anchor="start" fill="#222" >-15</text>
<text x="414.5" y="421.8" font-size="9.5" text-anchor="start" fill="#222" >-10</text>
<rect x="235.3" y="366.0" width="178.7" height="24.5" fill="#ececec" />
<rect x="235.3" y="397.4" width="178.7" height="24.6" fill="#e9e9e9" />
<g filter="url(#bl1)">
<rect x="265" y="404.8" width="23.0" height="10.4" rx="5" fill="#545454"/>
<rect x="294" y="403.5" width="23.7" height="10.2" rx="5" fill="#545454"/>
<rect x="321.8" y="403" width="26.6" height="11.0" rx="5" fill="#545454"/>
<rect x="352.5" y="405.5" width="23.5" height="10.3" rx="5" fill="#545454"/>
<rect x="381" y="407.6" width="24.8" height="10.2" rx="5" fill="#545454"/>
<rect x="351.5" y="369.7" width="27.5" height="15.3" rx="6" fill="#545454"/>
<rect x="383" y="367.6" width="23.8" height="21.4" rx="9" fill="#545454"/>
</g>
<text x="439.5" y="306.3" font-size="9.5" text-anchor="start" fill="#222" >d</text>
<text x="511.0" y="328.2" font-size="9.5" text-anchor="end" fill="#222" >Control TA Cyt<tspan font-style="italic">c</tspan></text>
<text x="511.0" y="339.1" font-size="9.5" text-anchor="end" fill="#222" >Ischemic TA Cyt<tspan font-style="italic">c</tspan></text>
<text x="509.5" y="350.4" font-size="9.5" text-anchor="end" fill="#222" >NAD<tspan font-size="5.5" dy="-3.5">+</tspan></text>
<text x="509.5" y="362.4" font-size="9.5" text-anchor="end" fill="#222" >Sirtuin5</text>
<text x="528.0" y="328.0" font-size="9.5" text-anchor="middle" fill="#000" >+</text>
<text x="558.2" y="339.0" font-size="9.5" text-anchor="middle" fill="#000" >+</text>
<text x="588.4" y="339.0" font-size="9.5" text-anchor="middle" fill="#000" >+</text>
<text x="617.8" y="339.0" font-size="9.5" text-anchor="middle" fill="#000" >+</text>
<text x="650.0" y="339.0" font-size="9.5" text-anchor="middle" fill="#000" >+</text>
<text x="588.4" y="350.6" font-size="9.5" text-anchor="middle" fill="#000" >+</text>
<text x="617.8" y="350.6" font-size="9.5" text-anchor="middle" fill="#000" >+</text>
<text x="617.8" y="361.7" font-size="9.5" text-anchor="middle" fill="#000" >+</text>
<text x="650.0" y="361.7" font-size="9.5" text-anchor="middle" fill="#000" >+</text>
<text x="663.5" y="362.0" font-size="9.5" text-anchor="start" fill="#222" text-decoration="underline">kDa:</text>
<text x="664.0" y="377.0" font-size="9.5" text-anchor="start" fill="#222" >-15</text>
<text x="664.0" y="409.7" font-size="9.5" text-anchor="start" fill="#222" >-15</text>
<text x="508.0" y="382.4" font-size="9.5" text-anchor="end" fill="#222" >Acetyl-lysine</text>
<text x="508.0" y="411.4" font-size="9.5" text-anchor="end" fill="#222" >Cyt<tspan font-style="italic">c</tspan></text>
<rect x="511.6" y="365.1" width="152.0" height="25.6" fill="#ececec" />
<rect x="511.6" y="396.9" width="152.0" height="25.3" fill="#e8e8e8" />
<g filter="url(#bl1)">
<rect x="544.5" y="365.5" width="24.5" height="25.0" fill="#d2d2d2" />
<rect x="574.5" y="365.5" width="24.2" height="25.0" fill="#dadada" />
<rect x="635.7" y="365.5" width="24.3" height="25.0" fill="#dcdcdc" />
<rect x="544.1" y="371.2" width="25.7" height="12.1" rx="5" fill="#575757"/>
<rect x="574.1" y="371.8" width="25.0" height="12.1" rx="5" fill="#575757"/>
<rect x="635.3" y="372.6" width="25.1" height="11.7" rx="5" fill="#575757"/>
<rect x="514.3" y="403.0" width="23.4" height="10.1" rx="4.5" fill="#555"/>
<rect x="545.1" y="404.2" width="23.8" height="10.8" rx="4.5" fill="#555"/>
<rect x="575.4" y="404.7" width="22.8" height="9.4" rx="4.5" fill="#555"/>
<rect x="605.3" y="405.4" width="23.8" height="9.7" rx="4.5" fill="#555"/>
<rect x="635.5" y="407.1" width="24.7" height="9.2" rx="4.5" fill="#555"/>
</g>
<rect x="602.2" y="311.4" width="31.5" height="118.0" fill="none" stroke="#111" stroke-width="1.5"/>
<text x="145.4" y="457.3" font-size="9.5" text-anchor="start" fill="#222" >e</text>
<text x="157.6" y="478.8" font-size="9.5" text-anchor="start" fill="#222" text-decoration="underline">kDa:</text>
<rect x="177.6" y="481.7" width="109.4" height="127.1" fill="#e8eaf7" />
<rect x="177.6" y="481.7" width="21.0" height="127.1" fill="#e0e7f6" />
<text x="178.0" y="489.0" font-size="9.5" text-anchor="end" fill="#222" >180-</text>
<text x="178.0" y="494.8" font-size="9.5" text-anchor="end" fill="#222" >130-</text>
<text x="178.0" y="503.7" font-size="9.5" text-anchor="end" fill="#222" >100-</text>
<text x="178.0" y="511.3" font-size="9.5" text-anchor="end" fill="#222" >70-</text>
<text x="178.0" y="525.7" font-size="9.5" text-anchor="end" fill="#222" >50-</text>
<text x="178.0" y="537.0" font-size="9.5" text-anchor="end" fill="#222" >40-</text>
<text x="178.0" y="551.0" font-size="9.5" text-anchor="end" fill="#222" >35-</text>
<text x="178.0" y="560.3" font-size="9.5" text-anchor="end" fill="#222" >25-</text>
<text x="178.0" y="583.8" font-size="9.5" text-anchor="end" fill="#222" >15-</text>
<text x="178.0" y="608.7" font-size="9.5" text-anchor="end" fill="#222" >10-</text>
<g filter="url(#bl07)">
<ellipse cx="188.5" cy="487" rx="7.3" ry="1.30" fill="#4da0e0"/>
<ellipse cx="188.5" cy="491.2" rx="7.3" ry="1.30" fill="#4da0e0"/>
<ellipse cx="188.5" cy="499.7" rx="7.3" ry="1.90" fill="#45a0e2"/>
<ellipse cx="188.5" cy="522" rx="7.3" ry="1.90" fill="#3f98dc"/>
<ellipse cx="188.5" cy="532.4" rx="7.3" ry="1.50" fill="#4a9ede"/>
<ellipse cx="188.5" cy="547.7" rx="7.3" ry="1.50" fill="#4a9ede"/>
<ellipse cx="188.5" cy="557" rx="7.3" ry="1.50" fill="#4a9ede"/>
<ellipse cx="188.5" cy="580.5" rx="7.3" ry="1.70" fill="#4a9ede"/>
<ellipse cx="188.3" cy="506" rx="7.3" ry="3.3" fill="#a844c0"/>
<ellipse cx="188.3" cy="605.2" rx="7" ry="2.6" fill="#8edcc4"/>
</g>
<g filter="url(#bl1)">
<rect x="200.3" y="584.6" width="18" height="5" rx="2.5" fill="#a2caec"/>
<rect x="222.6" y="584.6" width="18" height="5" rx="2.5" fill="#a2caec"/>
<rect x="244.5" y="584.6" width="18" height="5" rx="2.5" fill="#a2caec"/>
<rect x="267.5" y="584.6" width="18" height="5" rx="2.5" fill="#a2caec"/>
<ellipse cx="230" cy="510" rx="5" ry="3" fill="#d2d9f0"/>
<ellipse cx="240" cy="510" rx="5" ry="3" fill="#d2d9f0"/>
<ellipse cx="252.5" cy="510" rx="5" ry="3" fill="#d2d9f0"/>
<ellipse cx="275" cy="510" rx="5" ry="3" fill="#d2d9f0"/>
</g>
<text x="288.3" y="590.9" font-size="9.5" text-anchor="start" fill="#222" >Cyt<tspan font-style="italic">c</tspan></text>
<text x="0" y="0" font-size="9.5" text-anchor="start" fill="#222" transform="translate(208.0,481.5) rotate(-38)" >WT</text>
<text x="0" y="0" font-size="9.5" text-anchor="start" fill="#222" transform="translate(229.0,481.5) rotate(-38)" >K39R</text>
<text x="0" y="0" font-size="9.5" text-anchor="start" fill="#222" transform="translate(253.5,481.5) rotate(-38)" >K39Q</text>
<text x="0" y="0" font-size="9.5" text-anchor="start" fill="#222" transform="translate(277.5,481.5) rotate(-38)" >K39E</text>
<text x="331.2" y="458.0" font-size="9.5" text-anchor="start" fill="#222" >f</text>
<line x1="365.6" y1="476.5" x2="365.6" y2="588.4" stroke="#222" stroke-width="1.1" />
<line x1="365.6" y1="588.4" x2="531.8" y2="588.4" stroke="#222" stroke-width="1.1" />
<line x1="362.1" y1="588.4" x2="365.6" y2="588.4" stroke="#222" stroke-width="1" />
<text x="360.6" y="591.7" font-size="9.5" text-anchor="end" fill="#222" >0</text>
<line x1="362.1" y1="560.6" x2="365.6" y2="560.6" stroke="#222" stroke-width="1" />
<text x="360.6" y="563.9" font-size="9.5" text-anchor="end" fill="#222" >1</text>
<line x1="362.1" y1="532.8" x2="365.6" y2="532.8" stroke="#222" stroke-width="1" />
<text x="360.6" y="536.1" font-size="9.5" text-anchor="end" fill="#222" >2</text>
<line x1="362.1" y1="505.0" x2="365.6" y2="505.0" stroke="#222" stroke-width="1" />
<text x="360.6" y="508.3" font-size="9.5" text-anchor="end" fill="#222" >3</text>
<line x1="362.1" y1="477.2" x2="365.6" y2="477.2" stroke="#222" stroke-width="1" />
<text x="360.6" y="480.5" font-size="9.5" text-anchor="end" fill="#222" >4</text>
<line x1="384.0" y1="588.4" x2="384.0" y2="591.9" stroke="#222" stroke-width="1" />
<text x="384.0" y="601.6" font-size="9.5" text-anchor="middle" fill="#222" >300</text>
<line x1="420.9" y1="588.4" x2="420.9" y2="591.9" stroke="#222" stroke-width="1" />
<text x="420.9" y="601.6" font-size="9.5" text-anchor="middle" fill="#222" >400</text>
<line x1="457.8" y1="588.4" x2="457.8" y2="591.9" stroke="#222" stroke-width="1" />
<text x="457.8" y="601.6" font-size="9.5" text-anchor="middle" fill="#222" >500</text>
<line x1="494.7" y1="588.4" x2="494.7" y2="591.9" stroke="#222" stroke-width="1" />
<text x="494.7" y="601.6" font-size="9.5" text-anchor="middle" fill="#222" >600</text>
<line x1="531.6" y1="588.4" x2="531.6" y2="591.9" stroke="#222" stroke-width="1" />
<text x="531.6" y="601.6" font-size="9.5" text-anchor="middle" fill="#222" >700</text>
<line x1="365.6" y1="588.4" x2="365.6" y2="591.9" stroke="#222" stroke-width="1" />
<text x="0" y="0" font-size="9.5" text-anchor="middle" fill="#222" transform="translate(350.2,534.0) rotate(-90)" >Absorbance</text>
<text x="448.8" y="615.2" font-size="9.5" text-anchor="middle" fill="#222" >Wavelength (nm)</text>
<polyline points="365.6,561.4 365.8,561.2 366.0,560.9 366.2,560.6 366.3,560.3 366.5,560.1 366.7,559.8 366.9,559.5 367.1,559.3 367.3,559.0 367.4,558.7 367.6,558.5 367.8,558.2 368.0,558.0 368.2,557.8 368.4,557.5 368.6,557.3 368.7,557.1 368.9,556.8 369.1,556.6 369.3,556.4 369.5,556.2 369.7,556.0 369.8,555.8 370.0,555.6 370.2,555.4 370.4,555.2 370.6,555.0 370.8,554.8 370.9,554.6 371.1,554.4 371.3,554.2 371.5,553.9 371.7,553.7 371.9,553.5 372.1,553.3 372.2,553.1 372.4,552.9 372.6,552.7 372.8,552.5 373.0,552.3 373.2,552.1 373.3,552.0 373.5,551.8 373.7,551.7 373.9,551.5 374.1,551.4 374.3,551.3 374.5,551.2 374.6,551.1 374.8,551.0 375.0,551.0 375.2,550.9 375.4,550.9 375.6,550.9 375.7,550.9 375.9,551.0 376.1,551.2 376.3,551.4 376.5,551.6 376.7,551.9 376.9,552.3 377.0,552.6 377.2,553.0 377.4,553.4 377.6,553.9 377.8,554.3 378.0,554.8 378.1,555.3 378.3,555.7 378.5,556.2 378.7,556.6 378.9,557.0 379.1,557.4 379.2,557.8 379.4,558.2 379.6,558.6 379.8,559.1 380.0,559.5 380.2,560.0 380.4,560.5 380.5,561.0 380.7,561.5 380.9,562.0 381.1,562.5 381.3,563.0 381.5,563.5 381.6,563.9 381.8,564.3 382.0,564.7 382.2,565.1 382.4,565.4 382.6,565.6 382.8,565.9 382.9,566.0 383.1,566.1 383.3,566.2 383.5,566.1 383.7,565.9 383.9,565.6 384.0,565.3 384.2,564.8 384.4,564.3 384.6,563.7 384.8,563.1 385.0,562.5 385.2,561.8 385.3,561.2 385.5,560.6 385.7,559.9 385.9,559.4 386.1,558.8 386.3,558.4 386.4,557.9 386.6,557.5 386.8,557.0 387.0,556.5 387.2,555.9 387.4,555.4 387.5,554.9 387.7,554.5 387.9,554.0 388.1,553.6 388.3,553.2 388.5,552.9 388.7,552.6 388.8,552.4 389.0,552.3 389.2,552.3 389.4,552.3 389.6,552.4 389.8,552.6 389.9,552.8 390.1,553.1 390.3,553.4 390.5,553.8 390.7,554.2 390.9,554.6 391.1,555.0 391.2,555.4 391.4,555.8 391.6,556.2 391.8,556.6 392.0,556.9 392.2,557.3 392.3,557.6 392.5,557.9 392.7,558.2 392.9,558.4 393.1,558.7 393.3,559.0 393.5,559.3 393.6,559.6 393.8,559.9 394.0,560.2 394.2,560.5 394.4,560.8 394.6,561.1 394.7,561.4 394.9,561.6 395.1,561.9 395.3,562.2 395.5,562.5 395.7,562.7 395.8,563.0 396.0,563.3 396.2,563.5 396.4,563.8 396.6,564.0 396.8,564.3 397.0,564.5 397.1,564.7 397.3,565.0 397.5,565.2 397.7,565.4 397.9,565.7 398.1,565.9 398.2,566.1 398.4,566.3 398.6,566.6 398.8,566.8 399.0,567.0 399.2,567.2 399.4,567.4 399.5,567.6 399.7,567.8 399.9,568.1 400.1,568.3 400.3,568.5 400.5,568.7 400.6,568.9 400.8,569.0 401.0,569.2 401.2,569.4 401.4,569.6 401.6,569.8 401.8,569.9 401.9,570.1 402.1,570.3 402.3,570.4 402.5,570.6 402.7,570.8 402.9,570.9 403.0,571.1 403.2,571.3 403.4,571.4 403.6,571.6 403.8,571.8 404.0,572.0 404.2,572.1 404.3,572.3 404.5,572.5 404.7,572.6 404.9,572.8 405.1,572.9 405.3,573.1 405.4,573.2 405.6,573.3 405.8,573.5 406.0,573.6 406.2,573.7 406.4,573.7 406.5,573.8 406.7,573.9 406.9,573.9 407.1,573.9 407.3,573.9 407.5,573.9 407.7,573.9 407.8,573.8 408.0,573.8 408.2,573.7 408.4,573.5 408.6,573.4 408.8,573.3 408.9,573.1 409.1,572.9 409.3,572.7 409.5,572.5 409.7,572.3 409.9,572.1 410.1,571.9 410.2,571.6 410.4,571.4 410.6,571.2 410.8,570.9 411.0,570.6 411.2,570.3 411.3,569.9 411.5,569.5 411.7,569.1 411.9,568.6 412.1,568.1 412.3,567.6 412.5,567.0 412.6,566.4 412.8,565.8 413.0,565.2 413.2,564.6 413.4,564.0 413.6,563.3 413.7,562.6 413.9,562.0 414.1,561.3 414.3,560.6 414.5,559.9 414.7,559.1 414.8,558.3 415.0,557.4 415.2,556.5 415.4,555.6 415.6,554.6 415.8,553.6 416.0,552.6 416.1,551.6 416.3,550.6 416.5,549.5 416.7,548.5 416.9,547.4 417.1,546.4 417.2,545.3 417.4,544.3 417.6,543.3 417.8,542.2 418.0,541.2 418.2,540.1 418.4,539.1 418.5,537.9 418.7,536.7 418.9,535.5 419.1,534.2 419.3,532.8 419.5,531.2 419.6,529.5 419.8,527.8 420.0,525.9 420.2,524.0 420.4,522.1 420.6,520.2 420.8,518.2 420.9,516.3 421.1,514.4 421.3,512.6 421.5,510.8 421.7,509.2 421.9,507.5 422.0,505.9 422.2,504.2 422.4,502.6 422.6,501.0 422.8,499.4 423.0,497.9 423.1,496.4 423.3,495.0 423.5,493.8 423.7,492.7 423.9,491.7 424.1,490.7 424.3,489.8 424.4,488.8 424.6,488.0 424.8,487.2 425.0,486.6 425.2,486.2 425.4,486.1 425.5,486.2 425.7,486.5 425.9,486.9 426.1,487.5 426.3,488.1 426.5,488.9 426.7,489.7 426.8,490.5 427.0,491.6 427.2,492.9 427.4,494.6 427.6,496.4 427.8,498.4 427.9,500.6 428.1,502.8 428.3,505.0 428.5,507.4 428.7,510.1 428.9,513.1 429.1,516.2 429.2,519.4 429.4,522.7 429.6,526.0 429.8,529.1 430.0,532.2 430.2,534.9 430.3,537.5 430.5,539.8 430.7,542.2 430.9,544.5 431.1,546.8 431.3,549.0 431.4,551.1 431.6,553.2 431.8,555.2 432.0,557.1 432.2,558.8 432.4,560.5 432.6,562.0 432.7,563.4 432.9,564.7 433.1,566.0 433.3,567.2 433.5,568.4 433.7,569.6 433.8,570.7 434.0,571.8 434.2,572.8 434.4,573.8 434.6,574.7 434.8,575.6 435.0,576.3 435.1,577.0 435.3,577.7 435.5,578.2 435.7,578.7 435.9,579.1 436.1,579.5 436.2,579.8 436.4,580.2 436.6,580.6 436.8,580.9 437.0,581.2 437.2,581.5 437.4,581.8 437.5,582.1 437.7,582.3 437.9,582.6 438.1,582.8 438.3,583.0 438.5,583.2 438.6,583.4 438.8,583.6 439.0,583.8 439.2,583.9 439.4,584.0 439.6,584.1 439.7,584.2 439.9,584.3 440.1,584.4 440.3,584.5 440.5,584.6 440.7,584.6 440.9,584.7 441.0,584.8 441.2,584.8 441.4,584.9 441.6,585.0 441.8,585.0 442.0,585.1 442.1,585.1 442.3,585.2 442.5,585.2 442.7,585.3 442.9,585.3 443.1,585.4 443.3,585.4 443.4,585.4 443.6,585.5 443.8,585.5 444.0,585.5 444.2,585.6 444.4,585.6 444.5,585.6 444.7,585.6 444.9,585.6 445.1,585.6 445.3,585.6 445.5,585.6 445.7,585.7 445.8,585.7 446.0,585.7 446.2,585.7 446.4,585.7 446.6,585.7 446.8,585.7 446.9,585.7 447.1,585.7 447.3,585.7 447.5,585.7 447.7,585.7 447.9,585.7 448.0,585.8 448.2,585.8 448.4,585.8 448.6,585.8 448.8,585.8 449.0,585.8 449.2,585.8 449.3,585.8 449.5,585.8 449.7,585.8 449.9,585.8 450.1,585.8 450.3,585.8 450.4,585.8 450.6,585.8 450.8,585.8 451.0,585.8 451.2,585.8 451.4,585.9 451.6,585.9 451.7,585.9 451.9,585.9 452.1,585.9 452.3,585.9 452.5,585.9 452.7,585.9 452.8,585.9 453.0,585.9 453.2,585.9 453.4,585.9 453.6,585.9 453.8,585.9 454.0,585.9 454.1,585.9 454.3,585.9 454.5,585.9 454.7,585.9 454.9,585.9 455.1,585.9 455.2,585.9 455.4,585.9 455.6,585.9 455.8,585.9 456.0,585.9 456.2,585.9 456.3,585.9 456.5,585.9 456.7,585.8 456.9,585.8 457.1,585.7 457.3,585.7 457.5,585.6 457.6,585.5 457.8,585.4 458.0,585.3 458.2,585.2 458.4,585.1 458.6,585.0 458.7,584.9 458.9,584.8 459.1,584.6 459.3,584.5 459.5,584.4 459.7,584.2 459.9,584.0 460.0,583.8 460.2,583.5 460.4,583.1 460.6,582.7 460.8,582.2 461.0,581.7 461.1,581.2 461.3,580.7 461.5,580.2 461.7,579.6 461.9,579.1 462.1,578.6 462.3,578.1 462.4,577.7 462.6,577.3 462.8,576.9 463.0,576.5 463.2,576.0 463.4,575.6 463.5,575.2 463.7,574.7 463.9,574.3 464.1,573.9 464.3,573.5 464.5,573.1 464.6,572.8 464.8,572.5 465.0,572.3 465.2,572.1 465.4,572.0 465.6,572.0 465.8,572.0 465.9,572.2 466.1,572.3 466.3,572.6 466.5,572.8 466.7,573.2 466.9,573.5 467.0,573.9 467.2,574.2 467.4,574.6 467.6,575.0 467.8,575.3 468.0,575.6 468.2,575.9 468.3,576.2 468.5,576.4 468.7,576.7 468.9,577.0 469.1,577.3 469.3,577.6 469.4,577.9 469.6,578.2 469.8,578.5 470.0,578.7 470.2,578.9 470.4,579.1 470.6,579.3 470.7,579.4 470.9,579.5 471.1,579.5 471.3,579.5 471.5,579.3 471.7,579.1 471.8,578.8 472.0,578.4 472.2,578.0 472.4,577.5 472.6,576.9 472.8,576.4 472.9,575.7 473.1,575.1 473.3,574.4 473.5,573.8 473.7,573.1 473.9,572.4 474.1,571.7 474.2,570.9 474.4,569.9 474.6,568.7 474.8,567.4 475.0,566.1 475.2,564.7 475.3,563.5 475.5,562.3 475.7,561.3 475.9,560.5 476.1,560.0 476.3,559.8 476.5,560.0 476.6,560.7 476.8,561.7 477.0,563.0 477.2,564.5 477.4,566.1 477.6,567.7 477.7,569.2 477.9,570.6 478.1,571.7 478.3,572.7 478.5,573.7 478.7,574.6 478.9,575.5 479.0,576.4 479.2,577.3 479.4,578.1 479.6,578.8 479.8,579.5 480.0,580.1 480.1,580.6 480.3,581.2 480.5,581.7 480.7,582.2 480.9,582.7 481.1,583.1 481.3,583.5 481.4,583.9 481.6,584.3 481.8,584.6 482.0,584.8 482.2,585.1 482.4,585.3 482.5,585.4 482.7,585.6 482.9,585.8 483.1,586.0 483.3,586.1 483.5,586.2 483.6,586.4 483.8,586.5 484.0,586.6 484.2,586.7 484.4,586.8 484.6,586.9 484.8,587.0 484.9,587.1 485.1,587.2 485.3,587.2 485.5,587.3 485.7,587.3 485.9,587.4 486.0,587.4 486.2,587.5 486.4,587.5 486.6,587.6 486.8,587.6 487.0,587.6 487.2,587.7 487.3,587.7 487.5,587.7 487.7,587.8 487.9,587.8 488.1,587.8 488.3,587.9 488.4,587.9 488.6,587.9 488.8,588.0 489.0,588.0 489.2,588.0 489.4,588.0 489.6,588.0 489.7,588.1 489.9,588.1 490.1,588.1 490.3,588.1 490.5,588.1 490.7,588.1 490.8,588.1 491.0,588.1 491.2,588.1 491.4,588.1 491.6,588.1 491.8,588.1 491.9,588.1 492.1,588.1 492.3,588.1 492.5,588.1 492.7,588.1 492.9,588.2 493.1,588.2 493.2,588.2 493.4,588.2 493.6,588.2 493.8,588.2 494.0,588.2 494.2,588.2 494.3,588.2 494.5,588.2 494.7,588.2 494.9,588.2 495.1,588.2 495.3,588.2 495.5,588.2 495.6,588.2 495.8,588.2 496.0,588.2 496.2,588.2 496.4,588.2 496.6,588.2 496.7,588.2 496.9,588.2 497.1,588.2 497.3,588.2 497.5,588.2 497.7,588.2 497.9,588.2 498.0,588.2 498.2,588.2 498.4,588.2 498.6,588.2 498.8,588.2 499.0,588.2 499.1,588.2 499.3,588.2 499.5,588.2 499.7,588.2 499.9,588.2 500.1,588.3 500.2,588.3 500.4,588.3 500.6,588.3 500.8,588.3 501.0,588.3 501.2,588.3 501.4,588.3 501.5,588.3 501.7,588.3 501.9,588.3 502.1,588.3 502.3,588.3 502.5,588.3 502.6,588.3 502.8,588.3 503.0,588.3 503.2,588.3 503.4,588.3 503.6,588.3 503.8,588.3 503.9,588.3 504.1,588.3 504.3,588.3 504.5,588.3 504.7,588.3 504.9,588.3 505.0,588.3 505.2,588.3 505.4,588.3 505.6,588.3 505.8,588.3 506.0,588.3 506.2,588.3 506.3,588.3 506.5,588.3 506.7,588.3 506.9,588.3 507.1,588.3 507.3,588.3 507.4,588.3 507.6,588.3 507.8,588.3 508.0,588.3 508.2,588.3 508.4,588.3 508.5,588.3 508.7,588.3 508.9,588.3 509.1,588.3 509.3,588.3 509.5,588.3 509.7,588.3 509.8,588.3 510.0,588.3 510.2,588.3 510.4,588.3 510.6,588.3 510.8,588.3 510.9,588.3 511.1,588.3 511.3,588.3 511.5,588.3 511.7,588.3 511.9,588.4 512.1,588.4 512.2,588.4 512.4,588.4 512.6,588.4 512.8,588.4 513.0,588.4 513.2,588.4 513.3,588.4 513.5,588.4 513.7,588.4 513.9,588.4 514.1,588.4 514.3,588.4 514.5,588.4 514.6,588.4 514.8,588.4 515.0,588.4 515.2,588.4 515.4,588.4 515.6,588.4 515.7,588.4 515.9,588.4 516.1,588.4 516.3,588.4 516.5,588.4 516.7,588.4 516.8,588.4 517.0,588.4 517.2,588.4 517.4,588.4 517.6,588.4 517.8,588.4 518.0,588.4 518.1,588.4 518.3,588.4 518.5,588.4 518.7,588.4 518.9,588.4 519.1,588.4 519.2,588.4 519.4,588.4 519.6,588.4 519.8,588.4 520.0,588.4 520.2,588.4 520.4,588.4 520.5,588.4 520.7,588.4 520.9,588.4 521.1,588.4 521.3,588.4 521.5,588.4 521.6,588.4 521.8,588.4 522.0,588.4 522.2,588.4 522.4,588.4 522.6,588.4 522.8,588.4 522.9,588.4 523.1,588.4 523.3,588.4 523.5,588.4 523.7,588.4 523.9,588.4 524.0,588.4 524.2,588.4 524.4,588.4 524.6,588.4 524.8,588.4 525.0,588.4 525.1,588.4 525.3,588.4 525.5,588.4 525.7,588.4 525.9,588.4 526.1,588.4 526.3,588.4 526.4,588.4 526.6,588.4 526.8,588.4 527.0,588.4 527.2,588.4 527.4,588.4 527.5,588.4 527.7,588.4 527.9,588.4 528.1,588.4 528.3,588.4 528.5,588.4 528.7,588.4 528.8,588.4 529.0,588.4 529.2,588.4 529.4,588.4 529.6,588.4 529.8,588.4 529.9,588.4 530.1,588.4 530.3,588.4 530.5,588.4 530.7,588.4 530.9,588.4 531.1,588.4 531.2,588.4 531.4,588.4 531.6,588.4" fill="none" stroke="#222" stroke-width="1.2" />
<polyline points="365.6,569.8 365.8,569.6 366.0,569.4 366.2,569.3 366.3,569.1 366.5,568.9 366.7,568.8 366.9,568.6 367.1,568.4 367.3,568.3 367.4,568.1 367.6,568.0 367.8,567.8 368.0,567.7 368.2,567.5 368.4,567.4 368.6,567.2 368.7,567.1 368.9,566.9 369.1,566.8 369.3,566.7 369.5,566.5 369.7,566.4 369.8,566.3 370.0,566.2 370.2,566.0 370.4,565.9 370.6,565.8 370.8,565.6 370.9,565.5 371.1,565.4 371.3,565.2 371.5,565.1 371.7,565.0 371.9,564.8 372.1,564.7 372.2,564.6 372.4,564.4 372.6,564.3 372.8,564.2 373.0,564.1 373.2,563.9 373.3,563.8 373.5,563.7 373.7,563.6 373.9,563.5 374.1,563.4 374.3,563.4 374.5,563.3 374.6,563.2 374.8,563.2 375.0,563.2 375.2,563.1 375.4,563.1 375.6,563.1 375.7,563.1 375.9,563.2 376.1,563.2 376.3,563.4 376.5,563.5 376.7,563.6 376.9,563.8 377.0,564.0 377.2,564.2 377.4,564.4 377.6,564.6 377.8,564.9 378.0,565.1 378.1,565.4 378.3,565.6 378.5,565.8 378.7,566.1 378.9,566.3 379.1,566.5 379.2,566.7 379.4,566.9 379.6,567.2 379.8,567.4 380.0,567.7 380.2,567.9 380.4,568.2 380.5,568.5 380.7,568.8 380.9,569.1 381.1,569.3 381.3,569.6 381.5,569.9 381.6,570.1 381.8,570.4 382.0,570.6 382.2,570.8 382.4,571.0 382.6,571.1 382.8,571.3 382.9,571.4 383.1,571.4 383.3,571.4 383.5,571.4 383.7,571.2 383.9,571.0 384.0,570.7 384.2,570.3 384.4,569.9 384.6,569.4 384.8,568.9 385.0,568.3 385.2,567.8 385.3,567.2 385.5,566.7 385.7,566.1 385.9,565.6 386.1,565.2 386.3,564.8 386.4,564.4 386.6,564.0 386.8,563.5 387.0,563.0 387.2,562.6 387.4,562.1 387.5,561.7 387.7,561.2 387.9,560.8 388.1,560.4 388.3,560.1 388.5,559.8 388.7,559.5 388.8,559.4 389.0,559.3 389.2,559.2 389.4,559.2 389.6,559.3 389.8,559.4 389.9,559.6 390.1,559.8 390.3,560.0 390.5,560.3 390.7,560.6 390.9,560.9 391.1,561.2 391.2,561.5 391.4,561.8 391.6,562.1 391.8,562.3 392.0,562.6 392.2,562.8 392.3,563.0 392.5,563.3 392.7,563.5 392.9,563.7 393.1,563.9 393.3,564.1 393.5,564.4 393.6,564.6 393.8,564.8 394.0,565.0 394.2,565.2 394.4,565.5 394.6,565.7 394.7,565.9 394.9,566.1 395.1,566.3 395.3,566.5 395.5,566.7 395.7,567.0 395.8,567.2 396.0,567.4 396.2,567.6 396.4,567.8 396.6,568.0 396.8,568.2 397.0,568.4 397.1,568.6 397.3,568.8 397.5,569.0 397.7,569.2 397.9,569.4 398.1,569.6 398.2,569.8 398.4,570.0 398.6,570.2 398.8,570.4 399.0,570.6 399.2,570.8 399.4,571.0 399.5,571.2 399.7,571.4 399.9,571.6 400.1,571.8 400.3,572.0 400.5,572.2 400.6,572.3 400.8,572.5 401.0,572.7 401.2,572.9 401.4,573.0 401.6,573.2 401.8,573.4 401.9,573.5 402.1,573.7 402.3,573.8 402.5,573.9 402.7,574.1 402.9,574.2 403.0,574.4 403.2,574.5 403.4,574.7 403.6,574.8 403.8,574.9 404.0,575.1 404.2,575.2 404.3,575.4 404.5,575.5 404.7,575.6 404.9,575.8 405.1,575.9 405.3,576.0 405.4,576.1 405.6,576.2 405.8,576.3 406.0,576.4 406.2,576.5 406.4,576.6 406.5,576.6 406.7,576.7 406.9,576.7 407.1,576.7 407.3,576.7 407.5,576.7 407.7,576.7 407.8,576.6 408.0,576.5 408.2,576.4 408.4,576.3 408.6,576.2 408.8,576.0 408.9,575.9 409.1,575.7 409.3,575.5 409.5,575.3 409.7,575.1 409.9,574.9 410.1,574.6 410.2,574.4 410.4,574.2 410.6,573.9 410.8,573.7 411.0,573.4 411.2,573.1 411.3,572.7 411.5,572.3 411.7,571.8 411.9,571.4 412.1,570.9 412.3,570.3 412.5,569.8 412.6,569.2 412.8,568.6 413.0,568.0 413.2,567.4 413.4,566.7 413.6,566.1 413.7,565.4 413.9,564.7 414.1,564.1 414.3,563.4 414.5,562.7 414.7,561.9 414.8,561.1 415.0,560.2 415.2,559.3 415.4,558.4 415.6,557.4 415.8,556.4 416.0,555.4 416.1,554.4 416.3,553.3 416.5,552.3 416.7,551.2 416.9,550.2 417.1,549.1 417.2,548.1 417.4,547.1 417.6,546.0 417.8,545.0 418.0,544.0 418.2,542.9 418.4,541.8 418.5,540.7 418.7,539.5 418.9,538.3 419.1,537.0 419.3,535.5 419.5,534.0 419.6,532.3 419.8,530.6 420.0,528.7 420.2,526.8 420.4,524.9 420.6,522.9 420.8,521.0 420.9,519.1 421.1,517.2 421.3,515.4 421.5,513.6 421.7,511.9 421.9,510.3 422.0,508.7 422.2,507.0 422.4,505.3 422.6,503.7 422.8,502.1 423.0,500.6 423.1,499.1 423.3,497.8 423.5,496.5 423.7,495.4 423.9,494.4 424.1,493.5 424.3,492.6 424.4,491.7 424.6,490.9 424.8,490.2 425.0,489.6 425.2,489.3 425.4,489.2 425.5,489.2 425.7,489.5 425.9,489.9 426.1,490.4 426.3,491.1 426.5,491.8 426.7,492.5 426.8,493.3 427.0,494.3 427.2,495.6 427.4,497.2 427.6,498.9 427.8,500.9 427.9,502.9 428.1,505.1 428.3,507.2 428.5,509.5 428.7,512.2 428.9,515.0 429.1,518.1 429.2,521.2 429.4,524.4 429.6,527.6 429.8,530.7 430.0,533.6 430.2,536.4 430.3,538.8 430.5,541.2 430.7,543.5 430.9,545.9 431.1,548.1 431.3,550.3 431.4,552.5 431.6,554.6 431.8,556.5 432.0,558.4 432.2,560.2 432.4,561.9 432.6,563.4 432.7,564.8 432.9,566.1 433.1,567.3 433.3,568.6 433.5,569.8 433.7,571.0 433.8,572.1 434.0,573.2 434.2,574.3 434.4,575.3 434.6,576.2 434.8,577.0 435.0,577.8 435.1,578.5 435.3,579.1 435.5,579.6 435.7,580.1 435.9,580.4 436.1,580.8 436.2,581.1 436.4,581.5 436.6,581.8 436.8,582.1 437.0,582.4 437.2,582.7 437.4,582.9 437.5,583.2 437.7,583.4 437.9,583.6 438.1,583.8 438.3,584.0 438.5,584.2 438.6,584.4 438.8,584.5 439.0,584.7 439.2,584.8 439.4,584.9 439.6,585.0 439.7,585.1 439.9,585.1 440.1,585.2 440.3,585.3 440.5,585.3 440.7,585.4 440.9,585.4 441.0,585.5 441.2,585.6 441.4,585.6 441.6,585.7 441.8,585.7 442.0,585.7 442.1,585.8 442.3,585.8 442.5,585.9 442.7,585.9 442.9,585.9 443.1,586.0 443.3,586.0 443.4,586.0 443.6,586.1 443.8,586.1 444.0,586.1 444.2,586.1 444.4,586.1 444.5,586.2 444.7,586.2 444.9,586.2 445.1,586.2 445.3,586.2 445.5,586.2 445.7,586.2 445.8,586.2 446.0,586.2 446.2,586.2 446.4,586.2 446.6,586.3 446.8,586.3 446.9,586.3 447.1,586.3 447.3,586.3 447.5,586.3 447.7,586.3 447.9,586.3 448.0,586.3 448.2,586.3 448.4,586.3 448.6,586.3 448.8,586.3 449.0,586.3 449.2,586.3 449.3,586.4 449.5,586.4 449.7,586.4 449.9,586.4 450.1,586.4 450.3,586.4 450.4,586.4 450.6,586.4 450.8,586.4 451.0,586.4 451.2,586.4 451.4,586.4 451.6,586.4 451.7,586.4 451.9,586.4 452.1,586.4 452.3,586.4 452.5,586.4 452.7,586.4 452.8,586.4 453.0,586.4 453.2,586.4 453.4,586.4 453.6,586.4 453.8,586.4 454.0,586.4 454.1,586.4 454.3,586.4 454.5,586.4 454.7,586.5 454.9,586.5 455.1,586.5 455.2,586.5 455.4,586.5 455.6,586.5 455.8,586.5 456.0,586.5 456.2,586.4 456.3,586.4 456.5,586.4 456.7,586.4 456.9,586.3 457.1,586.3 457.3,586.3 457.5,586.2 457.6,586.1 457.8,586.1 458.0,586.0 458.2,585.9 458.4,585.8 458.6,585.7 458.7,585.6 458.9,585.5 459.1,585.4 459.3,585.3 459.5,585.2 459.7,585.1 459.9,584.9 460.0,584.7 460.2,584.5 460.4,584.2 460.6,583.8 460.8,583.5 461.0,583.1 461.1,582.7 461.3,582.2 461.5,581.8 461.7,581.4 461.9,581.0 462.1,580.6 462.3,580.2 462.4,579.8 462.6,579.5 462.8,579.2 463.0,578.8 463.2,578.5 463.4,578.1 463.5,577.7 463.7,577.4 463.9,577.0 464.1,576.7 464.3,576.3 464.5,576.0 464.6,575.8 464.8,575.5 465.0,575.3 465.2,575.2 465.4,575.1 465.6,575.1 465.8,575.1 465.9,575.2 466.1,575.3 466.3,575.6 466.5,575.8 466.7,576.1 466.9,576.4 467.0,576.7 467.2,577.0 467.4,577.3 467.6,577.6 467.8,577.9 468.0,578.2 468.2,578.4 468.3,578.6 468.5,578.8 468.7,579.0 468.9,579.3 469.1,579.5 469.3,579.7 469.4,580.0 469.6,580.2 469.8,580.4 470.0,580.6 470.2,580.7 470.4,580.9 470.6,581.0 470.7,581.1 470.9,581.2 471.1,581.2 471.3,581.1 471.5,581.0 471.7,580.8 471.8,580.6 472.0,580.3 472.2,579.9 472.4,579.5 472.6,579.0 472.8,578.5 472.9,578.0 473.1,577.4 473.3,576.9 473.5,576.3 473.7,575.7 473.9,575.1 474.1,574.5 474.2,573.8 474.4,572.9 474.6,571.8 474.8,570.6 475.0,569.3 475.2,568.1 475.3,566.9 475.5,565.7 475.7,564.8 475.9,564.0 476.1,563.6 476.3,563.4 476.5,563.6 476.6,564.3 476.8,565.2 477.0,566.5 477.2,567.9 477.4,569.4 477.6,570.8 477.7,572.2 477.9,573.5 478.1,574.5 478.3,575.3 478.5,576.2 478.7,577.0 478.9,577.7 479.0,578.5 479.2,579.2 479.4,579.8 479.6,580.4 479.8,581.0 480.0,581.4 480.1,581.9 480.3,582.4 480.5,582.8 480.7,583.2 480.9,583.6 481.1,584.0 481.3,584.3 481.4,584.7 481.6,584.9 481.8,585.2 482.0,585.4 482.2,585.6 482.4,585.8 482.5,586.0 482.7,586.1 482.9,586.3 483.1,586.4 483.3,586.5 483.5,586.7 483.6,586.8 483.8,586.9 484.0,587.0 484.2,587.1 484.4,587.2 484.6,587.3 484.8,587.4 484.9,587.4 485.1,587.5 485.3,587.5 485.5,587.6 485.7,587.6 485.9,587.6 486.0,587.7 486.2,587.7 486.4,587.7 486.6,587.8 486.8,587.8 487.0,587.8 487.2,587.8 487.3,587.9 487.5,587.9 487.7,587.9 487.9,587.9 488.1,587.9 488.3,588.0 488.4,588.0 488.6,588.0 488.8,588.0 489.0,588.0 489.2,588.0 489.4,588.1 489.6,588.1 489.7,588.1 489.9,588.1 490.1,588.1 490.3,588.1 490.5,588.1 490.7,588.1 490.8,588.1 491.0,588.1 491.2,588.1 491.4,588.1 491.6,588.1 491.8,588.1 491.9,588.1 492.1,588.1 492.3,588.1 492.5,588.1 492.7,588.1 492.9,588.2 493.1,588.2 493.2,588.2 493.4,588.2 493.6,588.2 493.8,588.2 494.0,588.2 494.2,588.2 494.3,588.2 494.5,588.2 494.7,588.2 494.9,588.2 495.1,588.2 495.3,588.2 495.5,588.2 495.6,588.2 495.8,588.2 496.0,588.2 496.2,588.2 496.4,588.2 496.6,588.2 496.7,588.2 496.9,588.2 497.1,588.2 497.3,588.2 497.5,588.2 497.7,588.2 497.9,588.2 498.0,588.2 498.2,588.2 498.4,588.2 498.6,588.2 498.8,588.2 499.0,588.2 499.1,588.2 499.3,588.2 499.5,588.2 499.7,588.2 499.9,588.2 500.1,588.2 500.2,588.2 500.4,588.3 500.6,588.3 500.8,588.3 501.0,588.3 501.2,588.3 501.4,588.3 501.5,588.3 501.7,588.3 501.9,588.3 502.1,588.3 502.3,588.3 502.5,588.3 502.6,588.3 502.8,588.3 503.0,588.3 503.2,588.3 503.4,588.3 503.6,588.3 503.8,588.3 503.9,588.3 504.1,588.3 504.3,588.3 504.5,588.3 504.7,588.3 504.9,588.3 505.0,588.3 505.2,588.3 505.4,588.3 505.6,588.3 505.8,588.3 506.0,588.3 506.2,588.3 506.3,588.3 506.5,588.3 506.7,588.3 506.9,588.3 507.1,588.3 507.3,588.3 507.4,588.3 507.6,588.3 507.8,588.3 508.0,588.3 508.2,588.3 508.4,588.3 508.5,588.3 508.7,588.3 508.9,588.3 509.1,588.3 509.3,588.3 509.5,588.3 509.7,588.3 509.8,588.3 510.0,588.3 510.2,588.3 510.4,588.3 510.6,588.3 510.8,588.3 510.9,588.3 511.1,588.3 511.3,588.3 511.5,588.3 511.7,588.3 511.9,588.3 512.1,588.3 512.2,588.4 512.4,588.4 512.6,588.4 512.8,588.4 513.0,588.4 513.2,588.4 513.3,588.4 513.5,588.4 513.7,588.4 513.9,588.4 514.1,588.4 514.3,588.4 514.5,588.4 514.6,588.4 514.8,588.4 515.0,588.4 515.2,588.4 515.4,588.4 515.6,588.4 515.7,588.4 515.9,588.4 516.1,588.4 516.3,588.4 516.5,588.4 516.7,588.4 516.8,588.4 517.0,588.4 517.2,588.4 517.4,588.4 517.6,588.4 517.8,588.4 518.0,588.4 518.1,588.4 518.3,588.4 518.5,588.4 518.7,588.4 518.9,588.4 519.1,588.4 519.2,588.4 519.4,588.4 519.6,588.4 519.8,588.4 520.0,588.4 520.2,588.4 520.4,588.4 520.5,588.4 520.7,588.4 520.9,588.4 521.1,588.4 521.3,588.4 521.5,588.4 521.6,588.4 521.8,588.4 522.0,588.4 522.2,588.4 522.4,588.4 522.6,588.4 522.8,588.4 522.9,588.4 523.1,588.4 523.3,588.4 523.5,588.4 523.7,588.4 523.9,588.4 524.0,588.4 524.2,588.4 524.4,588.4 524.6,588.4 524.8,588.4 525.0,588.4 525.1,588.4 525.3,588.4 525.5,588.4 525.7,588.4 525.9,588.4 526.1,588.4 526.3,588.4 526.4,588.4 526.6,588.4 526.8,588.4 527.0,588.4 527.2,588.4 527.4,588.4 527.5,588.4 527.7,588.4 527.9,588.4 528.1,588.4 528.3,588.4 528.5,588.4 528.7,588.4 528.8,588.4 529.0,588.4 529.2,588.4 529.4,588.4 529.6,588.4 529.8,588.4 529.9,588.4 530.1,588.4 530.3,588.4 530.5,588.4 530.7,588.4 530.9,588.4 531.1,588.4 531.2,588.4 531.4,588.4 531.6,588.4" fill="none" stroke="#222" stroke-width="1.4" stroke-dasharray="4,2"/>
<polyline points="365.6,569.8 365.8,569.6 366.0,569.4 366.2,569.3 366.3,569.1 366.5,568.9 366.7,568.8 366.9,568.6 367.1,568.4 367.3,568.3 367.4,568.1 367.6,568.0 367.8,567.8 368.0,567.7 368.2,567.5 368.4,567.4 368.6,567.2 368.7,567.1 368.9,566.9 369.1,566.8 369.3,566.7 369.5,566.5 369.7,566.4 369.8,566.3 370.0,566.2 370.2,566.0 370.4,565.9 370.6,565.8 370.8,565.6 370.9,565.5 371.1,565.4 371.3,565.2 371.5,565.1 371.7,565.0 371.9,564.8 372.1,564.7 372.2,564.6 372.4,564.4 372.6,564.3 372.8,564.2 373.0,564.1 373.2,563.9 373.3,563.8 373.5,563.7 373.7,563.6 373.9,563.5 374.1,563.4 374.3,563.4 374.5,563.3 374.6,563.2 374.8,563.2 375.0,563.2 375.2,563.1 375.4,563.1 375.6,563.1 375.7,563.1 375.9,563.2 376.1,563.2 376.3,563.4 376.5,563.5 376.7,563.6 376.9,563.8 377.0,564.0 377.2,564.2 377.4,564.4 377.6,564.6 377.8,564.9 378.0,565.1 378.1,565.4 378.3,565.6 378.5,565.8 378.7,566.1 378.9,566.3 379.1,566.5 379.2,566.7 379.4,566.9 379.6,567.2 379.8,567.4 380.0,567.7 380.2,567.9 380.4,568.2 380.5,568.5 380.7,568.8 380.9,569.1 381.1,569.3 381.3,569.6 381.5,569.9 381.6,570.1 381.8,570.4 382.0,570.6 382.2,570.8 382.4,571.0 382.6,571.1 382.8,571.3 382.9,571.4 383.1,571.4 383.3,571.4 383.5,571.4 383.7,571.2 383.9,571.0 384.0,570.7 384.2,570.3 384.4,569.9 384.6,569.4 384.8,568.9 385.0,568.3 385.2,567.8 385.3,567.2 385.5,566.7 385.7,566.1 385.9,565.6 386.1,565.2 386.3,564.8 386.4,564.4 386.6,564.0 386.8,563.5 387.0,563.0 387.2,562.6 387.4,562.1 387.5,561.7 387.7,561.2 387.9,560.8 388.1,560.4 388.3,560.1 388.5,559.8 388.7,559.5 388.8,559.4 389.0,559.3 389.2,559.2 389.4,559.2 389.6,559.3 389.8,559.4 389.9,559.6 390.1,559.8 390.3,560.0 390.5,560.3 390.7,560.6 390.9,560.9 391.1,561.2 391.2,561.5 391.4,561.8 391.6,562.1 391.8,562.3 392.0,562.6 392.2,562.8 392.3,563.0 392.5,563.3 392.7,563.5 392.9,563.7 393.1,563.9 393.3,564.1 393.5,564.4 393.6,564.6 393.8,564.8 394.0,565.0 394.2,565.2 394.4,565.5 394.6,565.7 394.7,565.9 394.9,566.1 395.1,566.3 395.3,566.5 395.5,566.7 395.7,567.0 395.8,567.2 396.0,567.4 396.2,567.6 396.4,567.8 396.6,568.0 396.8,568.2 397.0,568.4 397.1,568.6 397.3,568.8 397.5,569.0 397.7,569.2 397.9,569.4 398.1,569.6 398.2,569.8 398.4,570.0 398.6,570.2 398.8,570.4 399.0,570.6 399.2,570.8 399.4,571.0 399.5,571.2 399.7,571.4 399.9,571.6 400.1,571.8 400.3,572.0 400.5,572.2 400.6,572.3 400.8,572.5 401.0,572.7 401.2,572.9 401.4,573.0 401.6,573.2 401.8,573.4 401.9,573.5 402.1,573.7 402.3,573.8 402.5,573.9 402.7,574.1 402.9,574.2 403.0,574.4 403.2,574.5 403.4,574.7 403.6,574.8 403.8,574.9 404.0,575.1 404.2,575.2 404.3,575.4 404.5,575.5 404.7,575.6 404.9,575.8 405.1,575.9 405.3,576.0 405.4,576.1 405.6,576.2 405.8,576.3 406.0,576.4 406.2,576.5 406.4,576.6 406.5,576.6 406.7,576.7 406.9,576.7 407.1,576.7 407.3,576.7 407.5,576.7 407.7,576.7 407.8,576.6 408.0,576.5 408.2,576.4 408.4,576.3 408.6,576.2 408.8,576.0 408.9,575.9 409.1,575.7 409.3,575.5 409.5,575.3 409.7,575.1 409.9,574.9 410.1,574.6 410.2,574.4 410.4,574.2 410.6,573.9 410.8,573.7 411.0,573.4 411.2,573.0 411.3,572.6 411.5,572.2 411.7,571.7 411.9,571.2 412.1,570.7 412.3,570.1 412.5,569.6 412.6,569.0 412.8,568.3 413.0,567.7 413.2,567.0 413.4,566.3 413.6,565.6 413.7,564.9 413.9,564.2 414.1,563.5 414.3,562.8 414.5,562.1 414.7,561.3 414.8,560.5 415.0,559.6 415.2,558.7 415.4,557.8 415.6,556.8 415.8,555.8 416.0,554.8 416.1,553.8 416.3,552.8 416.5,551.7 416.7,550.7 416.9,549.6 417.1,548.6 417.2,547.5 417.4,546.5 417.6,545.5 417.8,544.5 418.0,543.4 418.2,542.4 418.4,541.3 418.5,540.2 418.7,539.0 418.9,537.7 419.1,536.4 419.3,535.0 419.5,533.4 419.6,531.8 419.8,530.0 420.0,528.2 420.2,526.3 420.4,524.3 420.6,522.4 420.8,520.4 420.9,518.5 421.1,516.6 421.3,514.8 421.5,513.1 421.7,511.4 421.9,509.8 422.0,508.1 422.2,506.5 422.4,504.8 422.6,503.2 422.8,501.6 423.0,500.0 423.1,498.6 423.3,497.2 423.5,496.0 423.7,494.8 423.9,493.9 424.1,493.0 424.3,492.1 424.4,491.2 424.6,490.4 424.8,489.6 425.0,489.1 425.2,488.7 425.4,488.6 425.5,488.7 425.7,488.9 425.9,489.4 426.1,489.9 426.3,490.5 426.5,491.2 426.7,492.0 426.8,492.8 427.0,493.7 427.2,495.0 427.4,496.6 427.6,498.4 427.8,500.3 427.9,502.4 428.1,504.5 428.3,506.7 428.5,509.0 428.7,511.6 428.9,514.4 429.1,517.5 429.2,520.6 429.4,523.8 429.6,527.0 429.8,530.1 430.0,533.0 430.2,535.8 430.3,538.3 430.5,540.7 430.7,543.1 430.9,545.4 431.1,547.8 431.3,550.0 431.4,552.2 431.6,554.3 431.8,556.4 432.0,558.3 432.2,560.1 432.4,561.8 432.6,563.4 432.7,564.8 432.9,566.1 433.1,567.4 433.3,568.6 433.5,569.8 433.7,571.0 433.8,572.2 434.0,573.3 434.2,574.3 434.4,575.3 434.6,576.2 434.8,577.0 435.0,577.8 435.1,578.5 435.3,579.1 435.5,579.6 435.7,580.1 435.9,580.4 436.1,580.8 436.2,581.1 436.4,581.5 436.6,581.8 436.8,582.1 437.0,582.4 437.2,582.7 437.4,582.9 437.5,583.2 437.7,583.4 437.9,583.6 438.1,583.8 438.3,584.0 438.5,584.2 438.6,584.4 438.8,584.5 439.0,584.7 439.2,584.8 439.4,584.9 439.6,585.0 439.7,585.1 439.9,585.1 440.1,585.2 440.3,585.3 440.5,585.3 440.7,585.4 440.9,585.4 441.0,585.5 441.2,585.6 441.4,585.6 441.6,585.7 441.8,585.7 442.0,585.7 442.1,585.8 442.3,585.8 442.5,585.9 442.7,585.9 442.9,585.9 443.1,586.0 443.3,586.0 443.4,586.0 443.6,586.1 443.8,586.1 444.0,586.1 444.2,586.1 444.4,586.1 444.5,586.2 444.7,586.2 444.9,586.2 445.1,586.2 445.3,586.2 445.5,586.2 445.7,586.2 445.8,586.2 446.0,586.2 446.2,586.2 446.4,586.2 446.6,586.3 446.8,586.3 446.9,586.3 447.1,586.3 447.3,586.3 447.5,586.3 447.7,586.3 447.9,586.3 448.0,586.3 448.2,586.3 448.4,586.3 448.6,586.3 448.8,586.3 449.0,586.3 449.2,586.3 449.3,586.4 449.5,586.4 449.7,586.4 449.9,586.4 450.1,586.4 450.3,586.4 450.4,586.4 450.6,586.4 450.8,586.4 451.0,586.4 451.2,586.4 451.4,586.4 451.6,586.4 451.7,586.4 451.9,586.4 452.1,586.4 452.3,586.4 452.5,586.4 452.7,586.4 452.8,586.4 453.0,586.4 453.2,586.4 453.4,586.4 453.6,586.4 453.8,586.4 454.0,586.4 454.1,586.4 454.3,586.4 454.5,586.4 454.7,586.5 454.9,586.5 455.1,586.5 455.2,586.5 455.4,586.5 455.6,586.5 455.8,586.5 456.0,586.5 456.2,586.4 456.3,586.4 456.5,586.4 456.7,586.4 456.9,586.3 457.1,586.3 457.3,586.3 457.5,586.2 457.6,586.1 457.8,586.1 458.0,586.0 458.2,585.9 458.4,585.8 458.6,585.7 458.7,585.6 458.9,585.5 459.1,585.4 459.3,585.3 459.5,585.2 459.7,585.1 459.9,584.9 460.0,584.7 460.2,584.5 460.4,584.2 460.6,583.8 460.8,583.5 461.0,583.1 461.1,582.7 461.3,582.2 461.5,581.8 461.7,581.4 461.9,581.0 462.1,580.6 462.3,580.2 462.4,579.8 462.6,579.5 462.8,579.2 463.0,578.8 463.2,578.5 463.4,578.1 463.5,577.7 463.7,577.4 463.9,577.0 464.1,576.7 464.3,576.3 464.5,576.0 464.6,575.8 464.8,575.5 465.0,575.3 465.2,575.2 465.4,575.1 465.6,575.1 465.8,575.1 465.9,575.2 466.1,575.3 466.3,575.6 466.5,575.8 466.7,576.1 466.9,576.4 467.0,576.7 467.2,577.0 467.4,577.3 467.6,577.6 467.8,577.9 468.0,578.2 468.2,578.4 468.3,578.6 468.5,578.8 468.7,579.0 468.9,579.3 469.1,579.5 469.3,579.7 469.4,580.0 469.6,580.2 469.8,580.4 470.0,580.6 470.2,580.7 470.4,580.9 470.6,581.0 470.7,581.1 470.9,581.2 471.1,581.2 471.3,581.1 471.5,581.0 471.7,580.8 471.8,580.6 472.0,580.3 472.2,579.9 472.4,579.5 472.6,579.0 472.8,578.5 472.9,578.0 473.1,577.4 473.3,576.9 473.5,576.3 473.7,575.7 473.9,575.1 474.1,574.5 474.2,573.8 474.4,572.9 474.6,571.8 474.8,570.6 475.0,569.3 475.2,568.1 475.3,566.9 475.5,565.7 475.7,564.8 475.9,564.0 476.1,563.6 476.3,563.4 476.5,563.6 476.6,564.3 476.8,565.2 477.0,566.5 477.2,567.9 477.4,569.4 477.6,570.8 477.7,572.2 477.9,573.5 478.1,574.5 478.3,575.3 478.5,576.2 478.7,577.0 478.9,577.7 479.0,578.5 479.2,579.2 479.4,579.8 479.6,580.4 479.8,581.0 480.0,581.4 480.1,581.9 480.3,582.4 480.5,582.8 480.7,583.2 480.9,583.6 481.1,584.0 481.3,584.3 481.4,584.7 481.6,584.9 481.8,585.2 482.0,585.4 482.2,585.6 482.4,585.8 482.5,586.0 482.7,586.1 482.9,586.3 483.1,586.4 483.3,586.5 483.5,586.7 483.6,586.8 483.8,586.9 484.0,587.0 484.2,587.1 484.4,587.2 484.6,587.3 484.8,587.4 484.9,587.4 485.1,587.5 485.3,587.5 485.5,587.6 485.7,587.6 485.9,587.6 486.0,587.7 486.2,587.7 486.4,587.7 486.6,587.8 486.8,587.8 487.0,587.8 487.2,587.8 487.3,587.9 487.5,587.9 487.7,587.9 487.9,587.9 488.1,587.9 488.3,588.0 488.4,588.0 488.6,588.0 488.8,588.0 489.0,588.0 489.2,588.0 489.4,588.1 489.6,588.1 489.7,588.1 489.9,588.1 490.1,588.1 490.3,588.1 490.5,588.1 490.7,588.1 490.8,588.1 491.0,588.1 491.2,588.1 491.4,588.1 491.6,588.1 491.8,588.1 491.9,588.1 492.1,588.1 492.3,588.1 492.5,588.1 492.7,588.1 492.9,588.2 493.1,588.2 493.2,588.2 493.4,588.2 493.6,588.2 493.8,588.2 494.0,588.2 494.2,588.2 494.3,588.2 494.5,588.2 494.7,588.2 494.9,588.2 495.1,588.2 495.3,588.2 495.5,588.2 495.6,588.2 495.8,588.2 496.0,588.2 496.2,588.2 496.4,588.2 496.6,588.2 496.7,588.2 496.9,588.2 497.1,588.2 497.3,588.2 497.5,588.2 497.7,588.2 497.9,588.2 498.0,588.2 498.2,588.2 498.4,588.2 498.6,588.2 498.8,588.2 499.0,588.2 499.1,588.2 499.3,588.2 499.5,588.2 499.7,588.2 499.9,588.2 500.1,588.2 500.2,588.2 500.4,588.3 500.6,588.3 500.8,588.3 501.0,588.3 501.2,588.3 501.4,588.3 501.5,588.3 501.7,588.3 501.9,588.3 502.1,588.3 502.3,588.3 502.5,588.3 502.6,588.3 502.8,588.3 503.0,588.3 503.2,588.3 503.4,588.3 503.6,588.3 503.8,588.3 503.9,588.3 504.1,588.3 504.3,588.3 504.5,588.3 504.7,588.3 504.9,588.3 505.0,588.3 505.2,588.3 505.4,588.3 505.6,588.3 505.8,588.3 506.0,588.3 506.2,588.3 506.3,588.3 506.5,588.3 506.7,588.3 506.9,588.3 507.1,588.3 507.3,588.3 507.4,588.3 507.6,588.3 507.8,588.3 508.0,588.3 508.2,588.3 508.4,588.3 508.5,588.3 508.7,588.3 508.9,588.3 509.1,588.3 509.3,588.3 509.5,588.3 509.7,588.3 509.8,588.3 510.0,588.3 510.2,588.3 510.4,588.3 510.6,588.3 510.8,588.3 510.9,588.3 511.1,588.3 511.3,588.3 511.5,588.3 511.7,588.3 511.9,588.3 512.1,588.3 512.2,588.4 512.4,588.4 512.6,588.4 512.8,588.4 513.0,588.4 513.2,588.4 513.3,588.4 513.5,588.4 513.7,588.4 513.9,588.4 514.1,588.4 514.3,588.4 514.5,588.4 514.6,588.4 514.8,588.4 515.0,588.4 515.2,588.4 515.4,588.4 515.6,588.4 515.7,588.4 515.9,588.4 516.1,588.4 516.3,588.4 516.5,588.4 516.7,588.4 516.8,588.4 517.0,588.4 517.2,588.4 517.4,588.4 517.6,588.4 517.8,588.4 518.0,588.4 518.1,588.4 518.3,588.4 518.5,588.4 518.7,588.4 518.9,588.4 519.1,588.4 519.2,588.4 519.4,588.4 519.6,588.4 519.8,588.4 520.0,588.4 520.2,588.4 520.4,588.4 520.5,588.4 520.7,588.4 520.9,588.4 521.1,588.4 521.3,588.4 521.5,588.4 521.6,588.4 521.8,588.4 522.0,588.4 522.2,588.4 522.4,588.4 522.6,588.4 522.8,588.4 522.9,588.4 523.1,588.4 523.3,588.4 523.5,588.4 523.7,588.4 523.9,588.4 524.0,588.4 524.2,588.4 524.4,588.4 524.6,588.4 524.8,588.4 525.0,588.4 525.1,588.4 525.3,588.4 525.5,588.4 525.7,588.4 525.9,588.4 526.1,588.4 526.3,588.4 526.4,588.4 526.6,588.4 526.8,588.4 527.0,588.4 527.2,588.4 527.4,588.4 527.5,588.4 527.7,588.4 527.9,588.4 528.1,588.4 528.3,588.4 528.5,588.4 528.7,588.4 528.8,588.4 529.0,588.4 529.2,588.4 529.4,588.4 529.6,588.4 529.8,588.4 529.9,588.4 530.1,588.4 530.3,588.4 530.5,588.4 530.7,588.4 530.9,588.4 531.1,588.4 531.2,588.4 531.4,588.4 531.6,588.4" fill="none" stroke="#222" stroke-width="1.4" stroke-dasharray="1.2,1.6"/>
<polyline points="365.6,579.2 365.8,579.1 366.0,579.1 366.2,579.0 366.3,578.9 366.5,578.8 366.7,578.7 366.9,578.7 367.1,578.6 367.3,578.5 367.4,578.4 367.6,578.4 367.8,578.3 368.0,578.2 368.2,578.1 368.4,578.1 368.6,578.0 368.7,578.0 368.9,577.9 369.1,577.8 369.3,577.8 369.5,577.7 369.7,577.7 369.8,577.6 370.0,577.6 370.2,577.5 370.4,577.5 370.6,577.4 370.8,577.4 370.9,577.3 371.1,577.3 371.3,577.2 371.5,577.2 371.7,577.1 371.9,577.1 372.1,577.0 372.2,577.0 372.4,576.9 372.6,576.9 372.8,576.8 373.0,576.8 373.2,576.7 373.3,576.7 373.5,576.7 373.7,576.6 373.9,576.6 374.1,576.6 374.3,576.5 374.5,576.5 374.6,576.5 374.8,576.5 375.0,576.5 375.2,576.5 375.4,576.4 375.6,576.4 375.7,576.5 375.9,576.5 376.1,576.5 376.3,576.6 376.5,576.7 376.7,576.8 376.9,576.9 377.0,577.0 377.2,577.2 377.4,577.3 377.6,577.5 377.8,577.6 378.0,577.8 378.1,577.9 378.3,578.0 378.5,578.2 378.7,578.3 378.9,578.4 379.1,578.6 379.2,578.7 379.4,578.8 379.6,578.9 379.8,579.0 380.0,579.1 380.2,579.2 380.4,579.3 380.5,579.5 380.7,579.6 380.9,579.7 381.1,579.8 381.3,579.9 381.5,580.0 381.6,580.1 381.8,580.2 382.0,580.3 382.2,580.4 382.4,580.4 382.6,580.5 382.8,580.6 382.9,580.6 383.1,580.6 383.3,580.6 383.5,580.6 383.7,580.5 383.9,580.4 384.0,580.3 384.2,580.1 384.4,580.0 384.6,579.8 384.8,579.6 385.0,579.3 385.2,579.1 385.3,578.9 385.5,578.6 385.7,578.4 385.9,578.2 386.1,578.0 386.3,577.8 386.4,577.7 386.6,577.5 386.8,577.3 387.0,577.1 387.2,576.9 387.4,576.7 387.5,576.5 387.7,576.3 387.9,576.1 388.1,575.9 388.3,575.7 388.5,575.6 388.7,575.5 388.8,575.4 389.0,575.4 389.2,575.3 389.4,575.3 389.6,575.4 389.8,575.4 389.9,575.5 390.1,575.5 390.3,575.6 390.5,575.7 390.7,575.8 390.9,575.9 391.1,576.1 391.2,576.2 391.4,576.3 391.6,576.5 391.8,576.6 392.0,576.7 392.2,576.9 392.3,577.0 392.5,577.1 392.7,577.2 392.9,577.4 393.1,577.5 393.3,577.6 393.5,577.6 393.6,577.7 393.8,577.8 394.0,577.9 394.2,578.0 394.4,578.1 394.6,578.2 394.7,578.3 394.9,578.4 395.1,578.4 395.3,578.5 395.5,578.6 395.7,578.7 395.8,578.8 396.0,578.9 396.2,578.9 396.4,579.0 396.6,579.1 396.8,579.2 397.0,579.3 397.1,579.3 397.3,579.4 397.5,579.5 397.7,579.6 397.9,579.7 398.1,579.7 398.2,579.8 398.4,579.9 398.6,580.0 398.8,580.1 399.0,580.1 399.2,580.2 399.4,580.3 399.5,580.4 399.7,580.5 399.9,580.6 400.1,580.6 400.3,580.7 400.5,580.8 400.6,580.9 400.8,581.0 401.0,581.1 401.2,581.2 401.4,581.2 401.6,581.3 401.8,581.4 401.9,581.5 402.1,581.6 402.3,581.6 402.5,581.7 402.7,581.8 402.9,581.8 403.0,581.9 403.2,582.0 403.4,582.0 403.6,582.1 403.8,582.1 404.0,582.2 404.2,582.2 404.3,582.3 404.5,582.3 404.7,582.4 404.9,582.4 405.1,582.4 405.3,582.5 405.4,582.5 405.6,582.6 405.8,582.6 406.0,582.6 406.2,582.7 406.4,582.7 406.5,582.7 406.7,582.7 406.9,582.8 407.1,582.8 407.3,582.8 407.5,582.8 407.7,582.8 407.8,582.8 408.0,582.8 408.2,582.8 408.4,582.8 408.6,582.8 408.8,582.8 408.9,582.7 409.1,582.7 409.3,582.6 409.5,582.6 409.7,582.5 409.9,582.4 410.1,582.3 410.2,582.3 410.4,582.2 410.6,582.1 410.8,582.0 411.0,581.9 411.2,581.8 411.3,581.7 411.5,581.6 411.7,581.4 411.9,581.3 412.1,581.2 412.3,581.0 412.5,580.8 412.6,580.6 412.8,580.4 413.0,580.2 413.2,579.9 413.4,579.7 413.6,579.4 413.7,579.1 413.9,578.8 414.1,578.5 414.3,578.1 414.5,577.8 414.7,577.4 414.8,577.0 415.0,576.7 415.2,576.3 415.4,575.9 415.6,575.5 415.8,575.0 416.0,574.5 416.1,574.0 416.3,573.4 416.5,572.8 416.7,572.1 416.9,571.4 417.1,570.7 417.2,570.0 417.4,569.3 417.6,568.5 417.8,567.7 418.0,566.9 418.2,566.1 418.4,565.3 418.5,564.5 418.7,563.6 418.9,562.8 419.1,562.0 419.3,561.1 419.5,560.2 419.6,559.3 419.8,558.3 420.0,557.3 420.2,556.2 420.4,555.2 420.6,554.1 420.8,553.0 420.9,552.0 421.1,551.0 421.3,550.0 421.5,549.0 421.7,548.1 421.9,547.2 422.0,546.2 422.2,545.3 422.4,544.3 422.6,543.4 422.8,542.5 423.0,541.6 423.1,540.8 423.3,540.1 423.5,539.4 423.7,538.8 423.9,538.4 424.1,538.0 424.3,537.5 424.4,537.2 424.6,536.8 424.8,536.5 425.0,536.2 425.2,535.9 425.4,535.7 425.5,535.6 425.7,535.6 425.9,535.7 426.1,535.9 426.3,536.2 426.5,536.6 426.7,537.2 426.8,537.8 427.0,538.4 427.2,539.1 427.4,539.9 427.6,540.6 427.8,541.4 427.9,542.5 428.1,543.7 428.3,545.0 428.5,546.4 428.7,547.9 428.9,549.4 429.1,550.9 429.2,552.3 429.4,553.6 429.6,555.0 429.8,556.3 430.0,557.7 430.2,559.0 430.3,560.4 430.5,561.8 430.7,563.1 430.9,564.5 431.1,565.8 431.3,567.0 431.4,568.2 431.6,569.3 431.8,570.3 432.0,571.2 432.2,572.0 432.4,572.8 432.6,573.6 432.7,574.4 432.9,575.2 433.1,575.9 433.3,576.6 433.5,577.3 433.7,578.0 433.8,578.6 434.0,579.2 434.2,579.7 434.4,580.2 434.6,580.7 434.8,581.1 435.0,581.4 435.1,581.8 435.3,582.1 435.5,582.5 435.7,582.8 435.9,583.1 436.1,583.4 436.2,583.7 436.4,584.0 436.6,584.3 436.8,584.5 437.0,584.8 437.2,585.0 437.4,585.2 437.5,585.4 437.7,585.6 437.9,585.8 438.1,585.9 438.3,586.0 438.5,586.1 438.6,586.2 438.8,586.2 439.0,586.3 439.2,586.4 439.4,586.4 439.6,586.5 439.7,586.5 439.9,586.6 440.1,586.6 440.3,586.7 440.5,586.7 440.7,586.8 440.9,586.8 441.0,586.8 441.2,586.9 441.4,586.9 441.6,587.0 441.8,587.0 442.0,587.0 442.1,587.1 442.3,587.1 442.5,587.1 442.7,587.1 442.9,587.2 443.1,587.2 443.3,587.2 443.4,587.2 443.6,587.2 443.8,587.2 444.0,587.3 444.2,587.3 444.4,587.3 444.5,587.3 444.7,587.3 444.9,587.3 445.1,587.3 445.3,587.3 445.5,587.3 445.7,587.3 445.8,587.3 446.0,587.3 446.2,587.3 446.4,587.3 446.6,587.3 446.8,587.3 446.9,587.3 447.1,587.3 447.3,587.3 447.5,587.3 447.7,587.3 447.9,587.3 448.0,587.3 448.2,587.3 448.4,587.3 448.6,587.3 448.8,587.3 449.0,587.3 449.2,587.3 449.3,587.3 449.5,587.3 449.7,587.3 449.9,587.3 450.1,587.3 450.3,587.3 450.4,587.3 450.6,587.3 450.8,587.3 451.0,587.3 451.2,587.3 451.4,587.3 451.6,587.3 451.7,587.3 451.9,587.3 452.1,587.3 452.3,587.3 452.5,587.3 452.7,587.3 452.8,587.3 453.0,587.3 453.2,587.3 453.4,587.3 453.6,587.3 453.8,587.3 454.0,587.3 454.1,587.3 454.3,587.3 454.5,587.3 454.7,587.3 454.9,587.3 455.1,587.3 455.2,587.3 455.4,587.3 455.6,587.3 455.8,587.3 456.0,587.3 456.2,587.3 456.3,587.3 456.5,587.3 456.7,587.2 456.9,587.2 457.1,587.2 457.3,587.2 457.5,587.1 457.6,587.1 457.8,587.0 458.0,587.0 458.2,586.9 458.4,586.9 458.6,586.8 458.7,586.8 458.9,586.7 459.1,586.6 459.3,586.6 459.5,586.5 459.7,586.5 459.9,586.4 460.0,586.3 460.2,586.2 460.4,586.0 460.6,585.9 460.8,585.8 461.0,585.6 461.1,585.4 461.3,585.3 461.5,585.1 461.7,585.0 461.9,584.8 462.1,584.6 462.3,584.5 462.4,584.4 462.6,584.2 462.8,584.1 463.0,584.0 463.2,583.8 463.4,583.7 463.5,583.6 463.7,583.4 463.9,583.3 464.1,583.2 464.3,583.0 464.5,582.9 464.6,582.8 464.8,582.7 465.0,582.7 465.2,582.6 465.4,582.6 465.6,582.6 465.8,582.6 465.9,582.6 466.1,582.6 466.3,582.7 466.5,582.8 466.7,582.8 466.9,582.9 467.0,583.0 467.2,583.1 467.4,583.2 467.6,583.3 467.8,583.4 468.0,583.5 468.2,583.6 468.3,583.7 468.5,583.8 468.7,583.9 468.9,584.0 469.1,584.0 469.3,584.1 469.4,584.1 469.6,584.2 469.8,584.3 470.0,584.3 470.2,584.4 470.4,584.4 470.6,584.5 470.7,584.5 470.9,584.5 471.1,584.5 471.3,584.5 471.5,584.4 471.7,584.2 471.8,584.0 472.0,583.7 472.2,583.4 472.4,583.1 472.6,582.7 472.8,582.3 472.9,581.8 473.1,581.4 473.3,581.0 473.5,580.5 473.7,580.1 473.9,579.6 474.1,579.2 474.2,578.8 474.4,578.2 474.6,577.6 474.8,576.9 475.0,576.2 475.2,575.6 475.3,574.9 475.5,574.3 475.7,573.8 475.9,573.5 476.1,573.2 476.3,573.1 476.5,573.3 476.6,573.7 476.8,574.3 477.0,575.1 477.2,575.9 477.4,576.9 477.6,577.8 477.7,578.7 477.9,579.4 478.1,580.1 478.3,580.6 478.5,581.1 478.7,581.6 478.9,582.1 479.0,582.6 479.2,583.0 479.4,583.5 479.6,583.9 479.8,584.3 480.0,584.6 480.1,584.9 480.3,585.2 480.5,585.4 480.7,585.6 480.9,585.8 481.1,585.9 481.3,586.1 481.4,586.2 481.6,586.3 481.8,586.4 482.0,586.6 482.2,586.7 482.4,586.8 482.5,586.9 482.7,587.0 482.9,587.1 483.1,587.2 483.3,587.3 483.5,587.4 483.6,587.4 483.8,587.5 484.0,587.6 484.2,587.6 484.4,587.7 484.6,587.7 484.8,587.8 484.9,587.8 485.1,587.8 485.3,587.8 485.5,587.8 485.7,587.8 485.9,587.9 486.0,587.9 486.2,587.9 486.4,587.9 486.6,587.9 486.8,587.9 487.0,587.9 487.2,587.9 487.3,587.9 487.5,587.9 487.7,587.9 487.9,587.9 488.1,587.9 488.3,587.9 488.4,587.9 488.6,587.9 488.8,587.9 489.0,587.9 489.2,588.0 489.4,588.0 489.6,588.0 489.7,588.0 489.9,588.0 490.1,588.0 490.3,588.0 490.5,588.0 490.7,588.0 490.8,588.0 491.0,588.0 491.2,588.0 491.4,588.0 491.6,588.0 491.8,588.0 491.9,588.0 492.1,588.0 492.3,588.0 492.5,588.0 492.7,588.0 492.9,588.0 493.1,588.1 493.2,588.1 493.4,588.1 493.6,588.1 493.8,588.1 494.0,588.1 494.2,588.1 494.3,588.1 494.5,588.1 494.7,588.1 494.9,588.1 495.1,588.1 495.3,588.1 495.5,588.1 495.6,588.1 495.8,588.1 496.0,588.1 496.2,588.1 496.4,588.1 496.6,588.1 496.7,588.1 496.9,588.1 497.1,588.1 497.3,588.1 497.5,588.1 497.7,588.1 497.9,588.2 498.0,588.2 498.2,588.2 498.4,588.2 498.6,588.2 498.8,588.2 499.0,588.2 499.1,588.2 499.3,588.2 499.5,588.2 499.7,588.2 499.9,588.2 500.1,588.2 500.2,588.2 500.4,588.2 500.6,588.2 500.8,588.2 501.0,588.2 501.2,588.2 501.4,588.2 501.5,588.2 501.7,588.2 501.9,588.2 502.1,588.2 502.3,588.2 502.5,588.2 502.6,588.2 502.8,588.2 503.0,588.2 503.2,588.2 503.4,588.2 503.6,588.2 503.8,588.2 503.9,588.2 504.1,588.3 504.3,588.3 504.5,588.3 504.7,588.3 504.9,588.3 505.0,588.3 505.2,588.3 505.4,588.3 505.6,588.3 505.8,588.3 506.0,588.3 506.2,588.3 506.3,588.3 506.5,588.3 506.7,588.3 506.9,588.3 507.1,588.3 507.3,588.3 507.4,588.3 507.6,588.3 507.8,588.3 508.0,588.3 508.2,588.3 508.4,588.3 508.5,588.3 508.7,588.3 508.9,588.3 509.1,588.3 509.3,588.3 509.5,588.3 509.7,588.3 509.8,588.3 510.0,588.3 510.2,588.3 510.4,588.3 510.6,588.3 510.8,588.3 510.9,588.3 511.1,588.3 511.3,588.3 511.5,588.3 511.7,588.3 511.9,588.3 512.1,588.3 512.2,588.3 512.4,588.3 512.6,588.3 512.8,588.3 513.0,588.3 513.2,588.3 513.3,588.3 513.5,588.3 513.7,588.3 513.9,588.3 514.1,588.4 514.3,588.4 514.5,588.4 514.6,588.4 514.8,588.4 515.0,588.4 515.2,588.4 515.4,588.4 515.6,588.4 515.7,588.4 515.9,588.4 516.1,588.4 516.3,588.4 516.5,588.4 516.7,588.4 516.8,588.4 517.0,588.4 517.2,588.4 517.4,588.4 517.6,588.4 517.8,588.4 518.0,588.4 518.1,588.4 518.3,588.4 518.5,588.4 518.7,588.4 518.9,588.4 519.1,588.4 519.2,588.4 519.4,588.4 519.6,588.4 519.8,588.4 520.0,588.4 520.2,588.4 520.4,588.4 520.5,588.4 520.7,588.4 520.9,588.4 521.1,588.4 521.3,588.4 521.5,588.4 521.6,588.4 521.8,588.4 522.0,588.4 522.2,588.4 522.4,588.4 522.6,588.4 522.8,588.4 522.9,588.4 523.1,588.4 523.3,588.4 523.5,588.4 523.7,588.4 523.9,588.4 524.0,588.4 524.2,588.4 524.4,588.4 524.6,588.4 524.8,588.4 525.0,588.4 525.1,588.4 525.3,588.4 525.5,588.4 525.7,588.4 525.9,588.4 526.1,588.4 526.3,588.4 526.4,588.4 526.6,588.4 526.8,588.4 527.0,588.4 527.2,588.4 527.4,588.4 527.5,588.4 527.7,588.4 527.9,588.4 528.1,588.4 528.3,588.4 528.5,588.4 528.7,588.4 528.8,588.4 529.0,588.4 529.2,588.4 529.4,588.4 529.6,588.4 529.8,588.4 529.9,588.4 530.1,588.4 530.3,588.4 530.5,588.4 530.7,588.4 530.9,588.4 531.1,588.4 531.2,588.4 531.4,588.4 531.6,588.4" fill="none" stroke="#222" stroke-width="1.4" stroke-dasharray="5,2,1.2,2"/>
<rect x="455.1" y="477.0" width="80.0" height="52.3" fill="white" />
<line x1="454.6" y1="477.3" x2="454.6" y2="529.8" stroke="#222" stroke-width="1.1" />
<line x1="454.6" y1="529.8" x2="531.8" y2="529.8" stroke="#222" stroke-width="1.1" />
<line x1="451.6" y1="529.8" x2="454.6" y2="529.8" stroke="#222" stroke-width="1" />
<text x="451.1" y="533.1" font-size="9.5" text-anchor="end" fill="#222" >0.10</text>
<line x1="451.6" y1="512.5" x2="454.6" y2="512.5" stroke="#222" stroke-width="1" />
<text x="451.1" y="515.8" font-size="9.5" text-anchor="end" fill="#222" >0.15</text>
<line x1="451.6" y1="495.1" x2="454.6" y2="495.1" stroke="#222" stroke-width="1" />
<text x="451.1" y="498.4" font-size="9.5" text-anchor="end" fill="#222" >0.20</text>
<line x1="451.6" y1="477.8" x2="454.6" y2="477.8" stroke="#222" stroke-width="1" />
<text x="451.1" y="481.1" font-size="9.5" text-anchor="end" fill="#222" >0.25</text>
<line x1="454.6" y1="529.8" x2="454.6" y2="532.8" stroke="#222" stroke-width="1" />
<text x="454.6" y="540.5" font-size="9.5" text-anchor="middle" fill="#222" >600</text>
<line x1="480.3" y1="529.8" x2="480.3" y2="532.8" stroke="#222" stroke-width="1" />
<text x="480.3" y="540.5" font-size="9.5" text-anchor="middle" fill="#222" >650</text>
<line x1="506.1" y1="529.8" x2="506.1" y2="532.8" stroke="#222" stroke-width="1" />
<text x="506.1" y="540.5" font-size="9.5" text-anchor="middle" fill="#222" >700</text>
<line x1="531.8" y1="529.8" x2="531.8" y2="532.8" stroke="#222" stroke-width="1" />
<text x="531.8" y="540.5" font-size="9.5" text-anchor="middle" fill="#222" >750</text>
<polyline points="454.6,494.1 467.5,497.9 480.3,500.3 493.2,503.5 506.1,503.1 518.9,507.3 531.8,510.4" fill="none" stroke="#8a8a8a" stroke-width="0.9" stroke-dasharray="1,1.3"/>
<polyline points="454.6,504.5 467.5,506.2 480.3,508.0 493.2,509.7 506.1,509.7 518.9,512.8 531.8,515.6" fill="none" stroke="#555" stroke-width="0.9" stroke-dasharray="2.5,1.5"/>
<polyline points="454.6,503.5 459.7,506.9 467.5,509.0 480.3,511.8 493.2,515.6 500.9,514.2 506.1,514.5 518.9,519.4 531.8,522.5" fill="none" stroke="#222" stroke-width="1.2" />
<polyline points="454.6,517.3 467.5,519.1 480.3,520.1 493.2,521.1 506.1,521.1 518.9,523.2 531.8,524.9" fill="none" stroke="#666" stroke-width="0.9" stroke-dasharray="3,1.5,1,1.5"/>
<line x1="548.0" y1="485.3" x2="559.5" y2="485.3" stroke="#222" stroke-width="1.3" />
<text x="566.5" y="488.7" font-size="9.5" text-anchor="start" fill="#222" >WT</text>
<line x1="548.0" y1="501.7" x2="559.5" y2="501.7" stroke="#222" stroke-width="1.3" stroke-dasharray="3,2"/>
<text x="566.5" y="505.1" font-size="9.5" text-anchor="start" fill="#222" >K39R</text>
<line x1="548.0" y1="516.2" x2="559.5" y2="516.2" stroke="#222" stroke-width="1.3" stroke-dasharray="1,1.8"/>
<text x="566.5" y="519.6" font-size="9.5" text-anchor="start" fill="#222" >K39Q</text>
<line x1="548.0" y1="530.7" x2="559.5" y2="530.7" stroke="#222" stroke-width="1.3" stroke-dasharray="4,1.5,1,1.5"/>
<text x="566.5" y="534.1" font-size="9.5" text-anchor="start" fill="#222" >K39E</text>
<text x="4.0" y="633.0" font-size="9.5" text-anchor="start" fill="#222" >g</text>
<line x1="37.0" y1="684.3" x2="37.0" y2="756.4" stroke="#222" stroke-width="1.1" />
<line x1="37.0" y1="756.4" x2="145.5" y2="756.4" stroke="#222" stroke-width="1.1" />
<line x1="33.5" y1="756.4" x2="37.0" y2="756.4" stroke="#222" stroke-width="1" />
<text x="33.4" y="759.7" font-size="9.2" text-anchor="end" fill="#222" >0</text>
<line x1="33.5" y1="738.4" x2="37.0" y2="738.4" stroke="#222" stroke-width="1" />
<text x="33.4" y="741.7" font-size="9.2" text-anchor="end" fill="#222" >5</text>
<line x1="33.5" y1="720.4" x2="37.0" y2="720.4" stroke="#222" stroke-width="1" />
<text x="33.4" y="723.7" font-size="9.2" text-anchor="end" fill="#222" >10</text>
<line x1="33.5" y1="702.4" x2="37.0" y2="702.4" stroke="#222" stroke-width="1" />
<text x="33.4" y="705.7" font-size="9.2" text-anchor="end" fill="#222" >15</text>
<line x1="33.5" y1="684.4" x2="37.0" y2="684.4" stroke="#222" stroke-width="1" />
<text x="33.4" y="687.7" font-size="9.2" text-anchor="end" fill="#222" >20</text>
<line x1="37.0" y1="756.4" x2="37.0" y2="759.9" stroke="#222" stroke-width="1" />
<text x="37.0" y="767.9" font-size="9.2" text-anchor="middle" fill="#222" >0</text>
<line x1="58.6" y1="756.4" x2="58.6" y2="759.9" stroke="#222" stroke-width="1" />
<text x="58.6" y="767.9" font-size="9.2" text-anchor="middle" fill="#222" >5</text>
<line x1="80.2" y1="756.4" x2="80.2" y2="759.9" stroke="#222" stroke-width="1" />
<text x="80.2" y="767.9" font-size="9.2" text-anchor="middle" fill="#222" >10</text>
<line x1="101.8" y1="756.4" x2="101.8" y2="759.9" stroke="#222" stroke-width="1" />
<text x="101.8" y="767.9" font-size="9.2" text-anchor="middle" fill="#222" >15</text>
<line x1="123.4" y1="756.4" x2="123.4" y2="759.9" stroke="#222" stroke-width="1" />
<text x="123.4" y="767.9" font-size="9.2" text-anchor="middle" fill="#222" >20</text>
<line x1="145.0" y1="756.4" x2="145.0" y2="759.9" stroke="#222" stroke-width="1" />
<text x="145.0" y="767.9" font-size="9.2" text-anchor="middle" fill="#222" >25</text>
<text x="0" y="0" font-size="9.7" text-anchor="middle" fill="#222" transform="translate(18.6,720.5) rotate(-90)" >Turnover number (s<tspan font-size="5.8" dy="-3.6">-1</tspan><tspan dy="3.6">)</tspan></text>
<text x="98.8" y="776.3" font-size="9.5" text-anchor="middle" fill="#222" >[Cyt<tspan font-style="italic">c</tspan>] (μM)</text>
<polyline points="37.0,756.4 39.2,753.8 41.3,751.5 43.5,749.5 45.6,747.6 47.8,746.0 50.0,744.4 52.1,743.0 54.3,741.8 56.4,740.6 58.6,739.5 60.8,738.5 62.9,737.6 65.1,736.7 67.2,735.9 69.4,735.1 71.6,734.4 73.7,733.7 75.9,733.1 78.0,732.5 80.2,731.9 82.4,731.4 84.5,730.9 86.7,730.4 88.8,730.0 91.0,729.5 93.2,729.1 95.3,728.7 97.5,728.3 99.6,728.0 101.8,727.6 104.0,727.3 106.1,727.0 108.3,726.7 110.4,726.4 112.6,726.1 114.8,725.9 116.9,725.6 119.1,725.4 121.2,725.1 123.4,724.9 125.6,724.7 127.7,724.4 129.9,724.2 132.0,724.0 134.2,723.8 136.4,723.7 138.5,723.5 140.7,723.3 142.8,723.1 145.0,723.0" fill="none" stroke="#555" stroke-width="0.8"/>
<polyline points="37.0,756.4 39.2,753.5 41.3,750.8 43.5,748.5 45.6,746.3 47.8,744.4 50.0,742.6 52.1,740.9 54.3,739.4 56.4,738.0 58.6,736.7 60.8,735.5 62.9,734.4 65.1,733.4 67.2,732.4 69.4,731.5 71.6,730.6 73.7,729.8 75.9,729.0 78.0,728.3 80.2,727.6 82.4,726.9 84.5,726.3 86.7,725.7 88.8,725.2 91.0,724.6 93.2,724.1 95.3,723.6 97.5,723.2 99.6,722.7 101.8,722.3 104.0,721.9 106.1,721.5 108.3,721.1 110.4,720.8 112.6,720.4 114.8,720.1 116.9,719.8 119.1,719.5 121.2,719.2 123.4,718.9 125.6,718.6 127.7,718.3 129.9,718.1 132.0,717.8 134.2,717.6 136.4,717.3 138.5,717.1 140.7,716.9 142.8,716.7 145.0,716.4" fill="none" stroke="#555" stroke-width="0.8"/>
<polyline points="37.0,756.4 39.2,752.6 41.3,749.3 43.5,746.3 45.6,743.7 47.8,741.3 50.0,739.1 52.1,737.2 54.3,735.4 56.4,733.7 58.6,732.2 60.8,730.8 62.9,729.5 65.1,728.3 67.2,727.2 69.4,726.2 71.6,725.2 73.7,724.3 75.9,723.4 78.0,722.6 80.2,721.8 82.4,721.1 84.5,720.4 86.7,719.8 88.8,719.2 91.0,718.6 93.2,718.0 95.3,717.5 97.5,717.0 99.6,716.5 101.8,716.1 104.0,715.6 106.1,715.2 108.3,714.8 110.4,714.4 112.6,714.1 114.8,713.7 116.9,713.4 119.1,713.0 121.2,712.7 123.4,712.4 125.6,712.1 127.7,711.8 129.9,711.6 132.0,711.3 134.2,711.0 136.4,710.8 138.5,710.6 140.7,710.3 142.8,710.1 145.0,709.9" fill="none" stroke="#555" stroke-width="0.8"/>
<polyline points="37.0,756.4 39.2,752.7 41.3,749.2 43.5,746.1 45.6,743.2 47.8,740.6 50.0,738.1 52.1,735.8 54.3,733.7 56.4,731.7 58.6,729.9 60.8,728.1 62.9,726.5 65.1,725.0 67.2,723.5 69.4,722.2 71.6,720.9 73.7,719.6 75.9,718.5 78.0,717.4 80.2,716.3 82.4,715.3 84.5,714.4 86.7,713.5 88.8,712.6 91.0,711.8 93.2,711.0 95.3,710.2 97.5,709.5 99.6,708.8 101.8,708.1 104.0,707.5 106.1,706.9 108.3,706.3 110.4,705.7 112.6,705.1 114.8,704.6 116.9,704.1 119.1,703.6 121.2,703.1 123.4,702.6 125.6,702.2 127.7,701.7 129.9,701.3 132.0,700.9 134.2,700.5 136.4,700.1 138.5,699.8 140.7,699.4 142.8,699.0 145.0,698.7" fill="none" stroke="#555" stroke-width="0.8"/>
<circle cx="37.0" cy="756.4" r="2.6" fill="#111"/>
<circle cx="45.6" cy="747.0" r="2.0" fill="#111"/>
<circle cx="58.6" cy="740.6" r="2.0" fill="#111"/>
<line x1="80.2" y1="728.6" x2="80.2" y2="734.6" stroke="#666" stroke-width="0.6" />
<line x1="78.9" y1="728.6" x2="81.5" y2="728.6" stroke="#666" stroke-width="0.6" />
<line x1="78.9" y1="734.6" x2="81.5" y2="734.6" stroke="#666" stroke-width="0.6" />
<circle cx="80.2" cy="731.6" r="2.0" fill="#111"/>
<line x1="101.8" y1="723.9" x2="101.8" y2="729.9" stroke="#666" stroke-width="0.6" />
<line x1="100.5" y1="723.9" x2="103.1" y2="723.9" stroke="#666" stroke-width="0.6" />
<line x1="100.5" y1="729.9" x2="103.1" y2="729.9" stroke="#666" stroke-width="0.6" />
<circle cx="101.8" cy="726.9" r="2.0" fill="#111"/>
<line x1="123.4" y1="721.4" x2="123.4" y2="727.4" stroke="#666" stroke-width="0.6" />
<line x1="122.1" y1="721.4" x2="124.7" y2="721.4" stroke="#666" stroke-width="0.6" />
<line x1="122.1" y1="727.4" x2="124.7" y2="727.4" stroke="#666" stroke-width="0.6" />
<circle cx="123.4" cy="724.4" r="2.0" fill="#111"/>
<line x1="145.0" y1="720.3" x2="145.0" y2="726.3" stroke="#666" stroke-width="0.6" />
<line x1="143.7" y1="720.3" x2="146.3" y2="720.3" stroke="#666" stroke-width="0.6" />
<line x1="143.7" y1="726.3" x2="146.3" y2="726.3" stroke="#666" stroke-width="0.6" />
<circle cx="145.0" cy="723.3" r="2.0" fill="#111"/>
<rect x="34.4" y="753.8" width="5.2" height="5.2" fill="#111"/>
<rect x="43.6" y="744.0" width="4.0" height="4.0" fill="#111"/>
<rect x="56.6" y="735.3" width="4.0" height="4.0" fill="#111"/>
<line x1="80.2" y1="724.2" x2="80.2" y2="730.2" stroke="#666" stroke-width="0.6" />
<line x1="78.9" y1="724.2" x2="81.5" y2="724.2" stroke="#666" stroke-width="0.6" />
<line x1="78.9" y1="730.2" x2="81.5" y2="730.2" stroke="#666" stroke-width="0.6" />
<rect x="78.2" y="725.2" width="4.0" height="4.0" fill="#111"/>
<line x1="101.8" y1="717.8" x2="101.8" y2="723.8" stroke="#666" stroke-width="0.6" />
<line x1="100.5" y1="717.8" x2="103.1" y2="717.8" stroke="#666" stroke-width="0.6" />
<line x1="100.5" y1="723.8" x2="103.1" y2="723.8" stroke="#666" stroke-width="0.6" />
<rect x="99.8" y="718.8" width="4.0" height="4.0" fill="#111"/>
<line x1="123.4" y1="715.6" x2="123.4" y2="721.6" stroke="#666" stroke-width="0.6" />
<line x1="122.1" y1="715.6" x2="124.7" y2="715.6" stroke="#666" stroke-width="0.6" />
<line x1="122.1" y1="721.6" x2="124.7" y2="721.6" stroke="#666" stroke-width="0.6" />
<rect x="121.4" y="716.6" width="4.0" height="4.0" fill="#111"/>
<line x1="145.0" y1="713.8" x2="145.0" y2="719.8" stroke="#666" stroke-width="0.6" />
<line x1="143.7" y1="713.8" x2="146.3" y2="713.8" stroke="#666" stroke-width="0.6" />
<line x1="143.7" y1="719.8" x2="146.3" y2="719.8" stroke="#666" stroke-width="0.6" />
<rect x="143.0" y="714.8" width="4.0" height="4.0" fill="#111"/>
<path d="M37.0,753.4 L39.9,758.7 L34.1,758.7 Z" fill="#111"/>
<path d="M45.6,742.5 L47.9,746.6 L43.3,746.6 Z" fill="#111"/>
<path d="M58.6,732.4 L60.9,736.5 L56.3,736.5 Z" fill="#111"/>
<line x1="80.2" y1="718.5" x2="80.2" y2="724.5" stroke="#666" stroke-width="0.6" />
<line x1="78.9" y1="718.5" x2="81.5" y2="718.5" stroke="#666" stroke-width="0.6" />
<line x1="78.9" y1="724.5" x2="81.5" y2="724.5" stroke="#666" stroke-width="0.6" />
<path d="M80.2,719.1 L82.5,723.2 L77.9,723.2 Z" fill="#111"/>
<line x1="101.8" y1="712.0" x2="101.8" y2="718.0" stroke="#666" stroke-width="0.6" />
<line x1="100.5" y1="712.0" x2="103.1" y2="712.0" stroke="#666" stroke-width="0.6" />
<line x1="100.5" y1="718.0" x2="103.1" y2="718.0" stroke="#666" stroke-width="0.6" />
<path d="M101.8,712.6 L104.1,716.7 L99.5,716.7 Z" fill="#111"/>
<line x1="123.4" y1="709.5" x2="123.4" y2="715.5" stroke="#666" stroke-width="0.6" />
<line x1="122.1" y1="709.5" x2="124.7" y2="709.5" stroke="#666" stroke-width="0.6" />
<line x1="122.1" y1="715.5" x2="124.7" y2="715.5" stroke="#666" stroke-width="0.6" />
<path d="M123.4,710.1 L125.7,714.2 L121.1,714.2 Z" fill="#111"/>
<line x1="145.0" y1="707.7" x2="145.0" y2="713.7" stroke="#666" stroke-width="0.6" />
<line x1="143.7" y1="707.7" x2="146.3" y2="707.7" stroke="#666" stroke-width="0.6" />
<line x1="143.7" y1="713.7" x2="146.3" y2="713.7" stroke="#666" stroke-width="0.6" />
<path d="M145.0,708.3 L147.3,712.4 L142.7,712.4 Z" fill="#111"/>
<path d="M37.0,759.4 L39.9,754.1 L34.1,754.1 Z" fill="#111"/>
<path d="M45.6,745.8 L47.9,741.7 L43.3,741.7 Z" fill="#111"/>
<path d="M58.6,733.6 L60.9,729.5 L56.3,729.5 Z" fill="#111"/>
<line x1="80.2" y1="712.4" x2="80.2" y2="718.4" stroke="#666" stroke-width="0.6" />
<line x1="78.9" y1="712.4" x2="81.5" y2="712.4" stroke="#666" stroke-width="0.6" />
<line x1="78.9" y1="718.4" x2="81.5" y2="718.4" stroke="#666" stroke-width="0.6" />
<path d="M80.2,717.8 L82.5,713.7 L77.9,713.7 Z" fill="#111"/>
<line x1="101.8" y1="703.4" x2="101.8" y2="709.4" stroke="#666" stroke-width="0.6" />
<line x1="100.5" y1="703.4" x2="103.1" y2="703.4" stroke="#666" stroke-width="0.6" />
<line x1="100.5" y1="709.4" x2="103.1" y2="709.4" stroke="#666" stroke-width="0.6" />
<path d="M101.8,708.8 L104.1,704.7 L99.5,704.7 Z" fill="#111"/>
<line x1="123.4" y1="698.3" x2="123.4" y2="704.3" stroke="#666" stroke-width="0.6" />
<line x1="122.1" y1="698.3" x2="124.7" y2="698.3" stroke="#666" stroke-width="0.6" />
<line x1="122.1" y1="704.3" x2="124.7" y2="704.3" stroke="#666" stroke-width="0.6" />
<path d="M123.4,703.7 L125.7,699.6 L121.1,699.6 Z" fill="#111"/>
<line x1="145.0" y1="695.8" x2="145.0" y2="701.8" stroke="#666" stroke-width="0.6" />
<line x1="143.7" y1="695.8" x2="146.3" y2="695.8" stroke="#666" stroke-width="0.6" />
<line x1="143.7" y1="701.8" x2="146.3" y2="701.8" stroke="#666" stroke-width="0.6" />
<path d="M145.0,701.2 L147.3,697.1 L142.7,697.1 Z" fill="#111"/>
<path d="M150.9,716.4 H154 V723.7 H150.9" fill="none" stroke="#333" stroke-width="0.8"/>
<text x="156.2" y="722.3" font-size="4.8" text-anchor="start" fill="#444" >p = 0.0332</text>
<path d="M179,708.4 H186.6 V723.4 H179" fill="none" stroke="#333" stroke-width="0.8"/>
<text x="187.8" y="718.5" font-size="4.8" text-anchor="start" fill="#444" >p = 0.0006</text>
<path d="M210.3,696.1 H216.8 V723.4 H210.3" fill="none" stroke="#333" stroke-width="0.8"/>
<text x="218.7" y="712.3" font-size="4.8" text-anchor="start" fill="#444" >p &lt; 0.001</text>
<line x1="176.9" y1="733.4" x2="183.6" y2="733.4" stroke="#333" stroke-width="0.7" />
<circle cx="180.3" cy="733.4" r="1.4" fill="#111"/>
<text x="188.8" y="736.8" font-size="9.5" text-anchor="start" fill="#222" >WT</text>
<line x1="176.9" y1="743.6" x2="183.6" y2="743.6" stroke="#333" stroke-width="0.7" />
<rect x="178.9" y="742.2" width="2.8" height="2.8" fill="#111"/>
<text x="188.8" y="747.0" font-size="9.5" text-anchor="start" fill="#222" >K39R</text>
<line x1="176.9" y1="753.2" x2="183.6" y2="753.2" stroke="#333" stroke-width="0.7" />
<path d="M180.3,751.4 L182.0,754.3 L178.6,754.3 Z" fill="#111"/>
<text x="188.8" y="756.6" font-size="9.5" text-anchor="start" fill="#222" >K39Q</text>
<line x1="176.9" y1="762.9" x2="183.6" y2="762.9" stroke="#333" stroke-width="0.7" />
<path d="M180.3,764.7 L182.0,761.8 L178.6,761.8 Z" fill="#111"/>
<text x="188.8" y="766.3" font-size="9.5" text-anchor="start" fill="#222" >K39E</text>
<text x="266.5" y="633.5" font-size="9.5" text-anchor="start" fill="#222" >h</text>
<line x1="296.4" y1="684.7" x2="296.4" y2="756.7" stroke="#222" stroke-width="1.1" />
<line x1="296.4" y1="756.7" x2="344.2" y2="756.7" stroke="#222" stroke-width="1.1" />
<line x1="293.2" y1="756.7" x2="296.4" y2="756.7" stroke="#222" stroke-width="1" />
<text x="292.7" y="760.0" font-size="9.5" text-anchor="end" fill="#222" >0</text>
<line x1="293.2" y1="732.9" x2="296.4" y2="732.9" stroke="#222" stroke-width="1" />
<text x="292.7" y="736.2" font-size="9.5" text-anchor="end" fill="#222" >2</text>
<line x1="293.2" y1="709.0" x2="296.4" y2="709.0" stroke="#222" stroke-width="1" />
<text x="292.7" y="712.3" font-size="9.5" text-anchor="end" fill="#222" >4</text>
<line x1="293.2" y1="685.2" x2="296.4" y2="685.2" stroke="#222" stroke-width="1" />
<text x="292.7" y="688.5" font-size="9.5" text-anchor="end" fill="#222" >6</text>
<rect x="303.4" y="716.0" width="13.0" height="40.7" fill="#575757" stroke="#111" stroke-width="1"/>
<rect x="324.4" y="692.7" width="12.2" height="64.0" fill="#ababab" stroke="#111" stroke-width="1"/>
<line x1="309.8" y1="711.6" x2="309.8" y2="716.0" stroke="#111" stroke-width="0.8" />
<line x1="304.2" y1="711.6" x2="315.4" y2="711.6" stroke="#111" stroke-width="0.8" />
<line x1="330.5" y1="688.3" x2="330.5" y2="692.7" stroke="#111" stroke-width="0.8" />
<line x1="327.5" y1="688.3" x2="333.5" y2="688.3" stroke="#111" stroke-width="0.8" />
<circle cx="304.1" cy="711.1" r="1.9" fill="#111"/>
<circle cx="315.5" cy="711.8" r="1.9" fill="#111"/>
<circle cx="309.8" cy="714.6" r="1.9" fill="#111"/>
<circle cx="312.4" cy="719.0" r="1.9" fill="#111"/>
<circle cx="306.7" cy="721.7" r="1.9" fill="#111"/>
<path d="M330.4,682.0 L332.6,685.9 L328.2,685.9 Z" fill="#111"/>
<path d="M324.7,687.7 L326.9,691.6 L322.5,691.6 Z" fill="#111"/>
<path d="M330.4,689.1 L332.6,693.0 L328.2,693.0 Z" fill="#111"/>
<path d="M336.1,689.5 L338.3,693.4 L333.9,693.4 Z" fill="#111"/>
<path d="M324.7,693.5 L326.9,697.4 L322.5,697.4 Z" fill="#111"/>
<path d="M309.8,681.5 V677.7 H330.6 V681.7" fill="none" stroke="#333" stroke-width="0.9"/>
<text x="321.2" y="674.5" font-size="4.7" text-anchor="middle" fill="#444" >p &lt; 0.0001</text>
<text x="0" y="0" font-size="9.35" text-anchor="middle" fill="#222" transform="translate(280.0,721.0) rotate(-90)" >Turnover number (s<tspan font-size="5.5" dy="-3.5">-1</tspan><tspan dy="3.5">)</tspan></text>
<text x="0" y="0" font-size="9.5" text-anchor="end" fill="#222" transform="translate(311.8,765.5) rotate(-45)" >Control TA (unacetylated)</text>
<text x="0" y="0" font-size="9.5" text-anchor="end" fill="#222" transform="translate(332.0,765.5) rotate(-45)" >Ischemic TA (acetylated)</text>
<line x1="309.7" y1="756.7" x2="309.7" y2="759.7" stroke="#222" stroke-width="1" />
<line x1="330.4" y1="756.7" x2="330.4" y2="759.7" stroke="#222" stroke-width="1" />
<text x="396.8" y="632.7" font-size="9.5" text-anchor="start" fill="#222" >i</text>
<line x1="436.5" y1="683.9" x2="436.5" y2="755.8" stroke="#222" stroke-width="1.1" />
<line x1="436.5" y1="755.8" x2="508.5" y2="755.8" stroke="#222" stroke-width="1.1" />
<line x1="433.3" y1="755.8" x2="436.5" y2="755.8" stroke="#222" stroke-width="1" />
<text x="432.8" y="759.1" font-size="9.5" text-anchor="end" fill="#222" >0</text>
<line x1="433.3" y1="743.9" x2="436.5" y2="743.9" stroke="#222" stroke-width="1" />
<text x="432.8" y="747.2" font-size="9.5" text-anchor="end" fill="#222" >20</text>
<line x1="433.3" y1="732.0" x2="436.5" y2="732.0" stroke="#222" stroke-width="1" />
<text x="432.8" y="735.3" font-size="9.5" text-anchor="end" fill="#222" >40</text>
<line x1="433.3" y1="720.1" x2="436.5" y2="720.1" stroke="#222" stroke-width="1" />
<text x="432.8" y="723.4" font-size="9.5" text-anchor="end" fill="#222" >60</text>
<line x1="433.3" y1="708.2" x2="436.5" y2="708.2" stroke="#222" stroke-width="1" />
<text x="432.8" y="711.5" font-size="9.5" text-anchor="end" fill="#222" >80</text>
<line x1="433.3" y1="696.3" x2="436.5" y2="696.3" stroke="#222" stroke-width="1" />
<text x="432.8" y="699.6" font-size="9.5" text-anchor="end" fill="#222" >100</text>
<line x1="433.3" y1="684.4" x2="436.5" y2="684.4" stroke="#222" stroke-width="1" />
<text x="432.8" y="687.7" font-size="9.5" text-anchor="end" fill="#222" >120</text>
<rect x="442.4" y="696.3" width="10.2" height="59.5" fill="#575555" stroke="#111" stroke-width="1"/>
<rect x="459.6" y="690.3" width="10.0" height="65.5" fill="#7c7c7c" stroke="#111" stroke-width="1"/>
<rect x="475.8" y="750.0" width="10.0" height="5.8" fill="#a0a0a0" stroke="#111" stroke-width="1"/>
<rect x="492.3" y="748.3" width="10.3" height="7.5" fill="#d2d2d2" stroke="#111" stroke-width="1"/>
<circle cx="443.9" cy="691.7" r="1.8" fill="#111"/>
<circle cx="447.4" cy="696.1" r="1.8" fill="#111"/>
<circle cx="451.5" cy="694.6" r="1.8" fill="#111"/>
<circle cx="443.9" cy="699.0" r="1.8" fill="#111"/>
<circle cx="451.5" cy="697.3" r="1.8" fill="#111"/>
<rect x="458.9" y="685.7" width="3.2" height="3.2" fill="#111"/>
<rect x="466.4" y="684.8" width="3.2" height="3.2" fill="#111"/>
<rect x="466.4" y="688.7" width="3.2" height="3.2" fill="#111"/>
<rect x="462.5" y="692.7" width="3.2" height="3.2" fill="#111"/>
<path d="M477.5,747.2 L479.5,750.7 L475.5,750.7 Z" fill="#111"/>
<path d="M480.5,746.3 L482.5,749.8 L478.5,749.8 Z" fill="#111"/>
<path d="M483.5,747.2 L485.5,750.7 L481.5,750.7 Z" fill="#111"/>
<path d="M479.0,748.0 L481.0,751.5 L477.0,751.5 Z" fill="#111"/>
<path d="M482.0,748.0 L484.0,751.5 L480.0,751.5 Z" fill="#111"/>
<path d="M497.4,743.3 L499.4,739.8 L495.4,739.8 Z" fill="#111"/>
<path d="M494.6,750.8 L496.6,747.3 L492.6,747.3 Z" fill="#111"/>
<path d="M500.2,750.8 L502.2,747.3 L498.2,747.3 Z" fill="#111"/>
<path d="M497.4,752.5 L499.4,749.0 L495.4,749.0 Z" fill="#111"/>
<line x1="497.4" y1="743.9" x2="497.4" y2="748.3" stroke="#111" stroke-width="0.8" />
<line x1="494.7" y1="744.2" x2="500.1" y2="744.2" stroke="#111" stroke-width="0.8" />
<line x1="447.5" y1="693.9" x2="447.5" y2="696.3" stroke="#111" stroke-width="0.8" />
<line x1="444.8" y1="693.9" x2="450.2" y2="693.9" stroke="#111" stroke-width="0.8" />
<path d="M447.6,681.5 V677.7 H464.5 V681.5" fill="none" stroke="#333" stroke-width="0.9"/>
<text x="456.1" y="674.3" font-size="5" text-anchor="middle" fill="#444" >p = 0.0189</text>
<path d="M447.6,666.3 V662.5 H480.9 V666.3" fill="none" stroke="#333" stroke-width="0.9"/>
<text x="464.2" y="659.1" font-size="5" text-anchor="middle" fill="#444" >p &lt; 0.001</text>
<path d="M447.6,650.5 V646.7 H497.7 V650.5" fill="none" stroke="#333" stroke-width="0.9"/>
<text x="472.6" y="643.3" font-size="5" text-anchor="middle" fill="#444" >p &lt; 0.001</text>
<text x="0" y="0" font-size="9.3" text-anchor="middle" fill="#222" transform="translate(413.8,717.9) rotate(-90)" >Caspase-3 Activity (% of WT)</text>
<text x="0" y="0" font-size="9.6" text-anchor="end" fill="#222" transform="translate(450.7,766.7) rotate(-45)" >WT</text>
<text x="0" y="0" font-size="9.6" text-anchor="end" fill="#222" transform="translate(467.2,766.7) rotate(-45)" >K39R</text>
<text x="0" y="0" font-size="9.6" text-anchor="end" fill="#222" transform="translate(483.7,766.7) rotate(-45)" >K39Q</text>
<text x="0" y="0" font-size="9.6" text-anchor="end" fill="#222" transform="translate(500.2,766.7) rotate(-45)" >K39E</text>
<line x1="447.5" y1="755.8" x2="447.5" y2="758.8" stroke="#222" stroke-width="1" />
<line x1="464.3" y1="755.8" x2="464.3" y2="758.8" stroke="#222" stroke-width="1" />
<line x1="480.6" y1="755.8" x2="480.6" y2="758.8" stroke="#222" stroke-width="1" />
<line x1="497.4" y1="755.8" x2="497.4" y2="758.8" stroke="#222" stroke-width="1" />
<text x="533.0" y="633.2" font-size="9.5" text-anchor="start" fill="#222" >j</text>
<line x1="583.4" y1="683.8" x2="583.4" y2="754.3" stroke="#222" stroke-width="1.1" />
<line x1="583.4" y1="754.3" x2="630.4" y2="754.3" stroke="#222" stroke-width="1.1" />
<line x1="580.2" y1="754.3" x2="583.4" y2="754.3" stroke="#222" stroke-width="1" />
<text x="579.7" y="757.6" font-size="9.5" text-anchor="end" fill="#222" >0</text>
<line x1="580.2" y1="742.6" x2="583.4" y2="742.6" stroke="#222" stroke-width="1" />
<text x="579.7" y="745.9" font-size="9.5" text-anchor="end" fill="#222" >20</text>
<line x1="580.2" y1="731.0" x2="583.4" y2="731.0" stroke="#222" stroke-width="1" />
<text x="579.7" y="734.3" font-size="9.5" text-anchor="end" fill="#222" >40</text>
<line x1="580.2" y1="719.3" x2="583.4" y2="719.3" stroke="#222" stroke-width="1" />
<text x="579.7" y="722.6" font-size="9.5" text-anchor="end" fill="#222" >60</text>
<line x1="580.2" y1="707.6" x2="583.4" y2="707.6" stroke="#222" stroke-width="1" />
<text x="579.7" y="710.9" font-size="9.5" text-anchor="end" fill="#222" >80</text>
<line x1="580.2" y1="696.0" x2="583.4" y2="696.0" stroke="#222" stroke-width="1" />
<text x="579.7" y="699.3" font-size="9.5" text-anchor="end" fill="#222" >100</text>
<line x1="580.2" y1="684.3" x2="583.4" y2="684.3" stroke="#222" stroke-width="1" />
<text x="579.7" y="687.6" font-size="9.5" text-anchor="end" fill="#222" >120</text>
<rect x="590.6" y="696.0" width="11.6" height="58.3" fill="#575555" stroke="#111" stroke-width="1"/>
<rect x="610.6" y="723.3" width="11.6" height="31.0" fill="#a9a9a9" stroke="#111" stroke-width="1"/>
<line x1="596.5" y1="693.5" x2="596.5" y2="696.0" stroke="#666" stroke-width="0.7" />
<line x1="592.0" y1="693.5" x2="601.0" y2="693.5" stroke="#ddd" stroke-width="0.8" />
<circle cx="591.6" cy="693.6" r="1.9" fill="#111"/>
<circle cx="601.6" cy="693.3" r="1.9" fill="#111"/>
<circle cx="596.5" cy="700.4" r="1.9" fill="#111"/>
<circle cx="601.2" cy="697.1" r="1.9" fill="#111"/>
<path d="M612.2,719.8 L614.3,723.5 L610.1,723.5 Z" fill="#111"/>
<path d="M617.0,719.8 L619.1,723.5 L614.9,723.5 Z" fill="#111"/>
<path d="M621.7,719.8 L623.8,723.5 L619.6,723.5 Z" fill="#111"/>
<path d="M611.5,723.8 L613.6,727.5 L609.4,727.5 Z" fill="#111"/>
<path d="M596.5,688.7 V684.3 H616.6 V688.7" fill="none" stroke="#333" stroke-width="0.9"/>
<text x="607.2" y="681.2" font-size="4.5" text-anchor="middle" fill="#444" >p &lt; 0.0001</text>
<text x="0" y="0" font-size="9.1" text-anchor="middle" fill="#222" transform="translate(560.0,716.7) rotate(-90)" >Caspase-3 Activity (% of Control TA)</text>
<text x="0" y="0" font-size="9.5" text-anchor="end" fill="#222" transform="translate(599.8,764.8) rotate(-45)" >Control TA (Unacetylated)</text>
<text x="0" y="0" font-size="9.5" text-anchor="end" fill="#222" transform="translate(619.3,764.8) rotate(-45)" >Ischemic TA (Acetyled)</text>
<line x1="596.3" y1="754.3" x2="596.3" y2="757.3" stroke="#222" stroke-width="1" />
<line x1="616.2" y1="754.3" x2="616.2" y2="757.3" stroke="#222" stroke-width="1" />
</svg>
</body></html>
